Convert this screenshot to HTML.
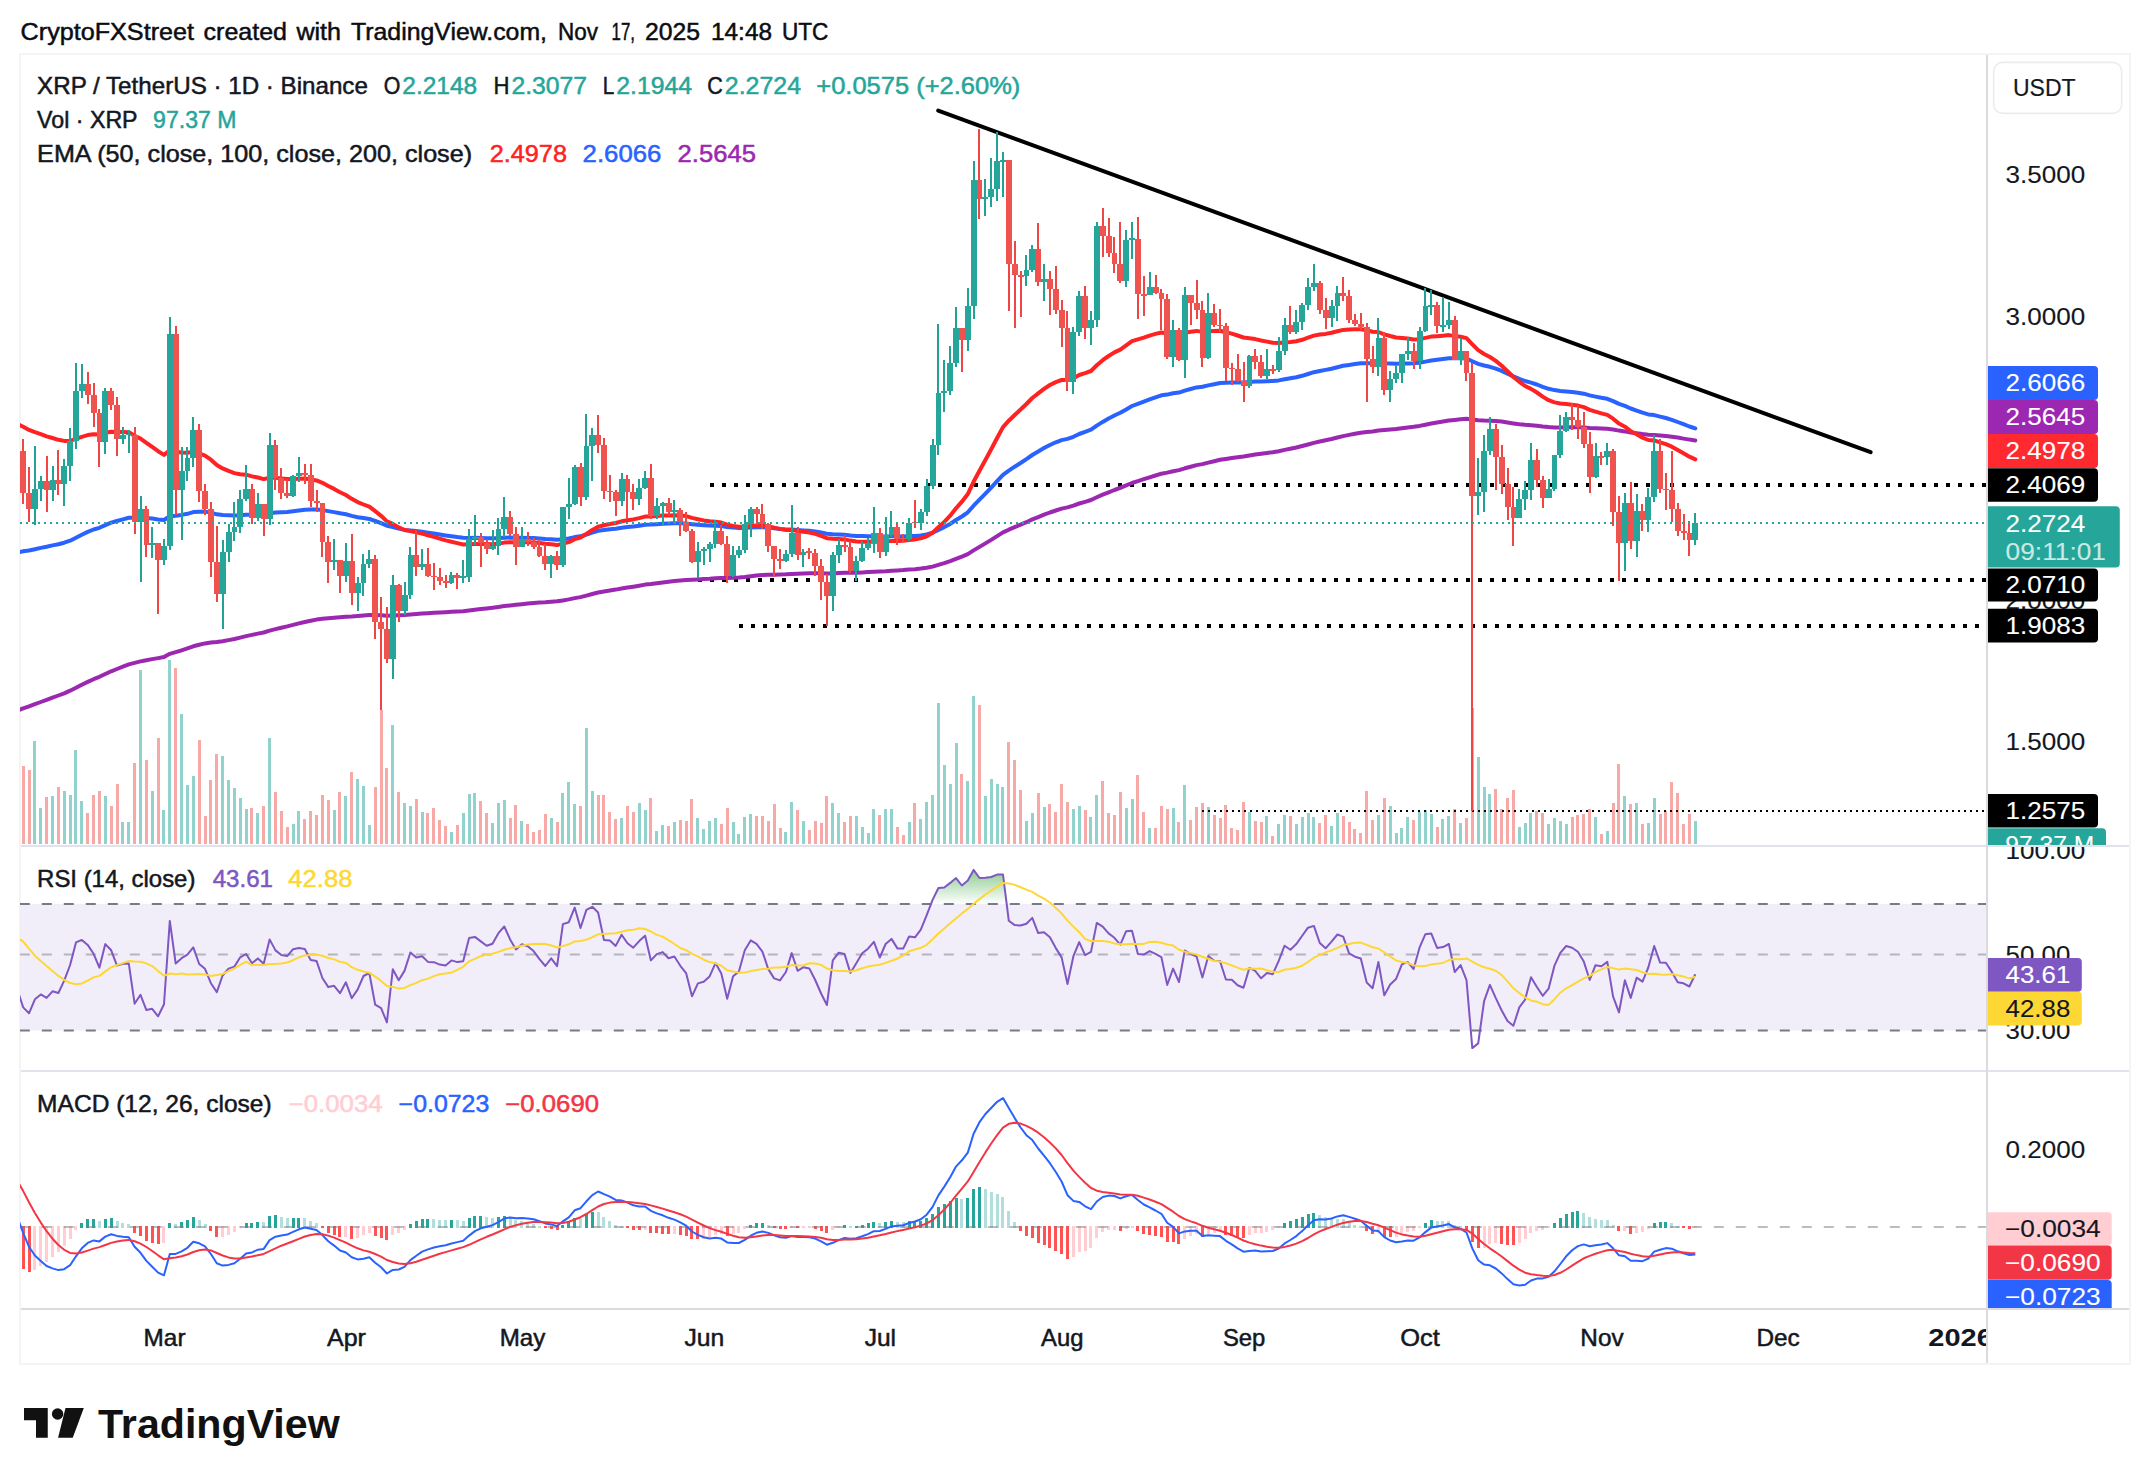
<!DOCTYPE html>
<html lang="en"><head><meta charset="utf-8"><title>XRP / TetherUS chart</title>
<style>html,body{margin:0;padding:0;background:#fff}body{width:2150px;height:1484px;overflow:hidden}svg{display:block}text{font-family:"Liberation Sans", sans-serif}</style>
</head><body>
<svg width="2150" height="1484" viewBox="0 0 2150 1484">
<defs>
<clipPath id="cpMain"><rect x="20" y="55" width="1966" height="790"/></clipPath>
<clipPath id="cpRsi"><rect x="20" y="847" width="1966" height="223"/></clipPath>
<clipPath id="cpMacd"><rect x="20" y="1072" width="1966" height="236"/></clipPath>
<clipPath id="cpAxMain"><rect x="1988" y="55" width="141" height="790"/></clipPath>
<clipPath id="cpAxRsi"><rect x="1988" y="847" width="141" height="223"/></clipPath>
<clipPath id="cpAxMacd"><rect x="1988" y="1072" width="141" height="236"/></clipPath>
<clipPath id="cpTime"><rect x="21" y="1310" width="1965" height="53"/></clipPath>
<linearGradient id="obGrad" gradientUnits="userSpaceOnUse" x1="0" y1="850.7" x2="0" y2="904"><stop offset="0" stop-color="#4caf50" stop-opacity="1"/><stop offset="1" stop-color="#4caf50" stop-opacity="0"/></linearGradient>
</defs>
<rect x="0" y="0" width="2150" height="1484" fill="#ffffff"/>
<text y="40" font-size="24.2" fill="#0b0d12" stroke="#0b0d12" stroke-width="0.5"><tspan x="20.6" textLength="173.4" lengthAdjust="spacingAndGlyphs">CryptoFXStreet</tspan> <tspan x="203.6" textLength="83.4" lengthAdjust="spacingAndGlyphs">created</tspan> <tspan x="296.4" textLength="44.6" lengthAdjust="spacingAndGlyphs">with</tspan> <tspan x="351" textLength="196" lengthAdjust="spacingAndGlyphs">TradingView.com,</tspan> <tspan x="558" textLength="40" lengthAdjust="spacingAndGlyphs">Nov</tspan> <tspan x="611.6" textLength="23.4" lengthAdjust="spacingAndGlyphs">17,</tspan> <tspan x="645" textLength="55" lengthAdjust="spacingAndGlyphs">2025</tspan> <tspan x="711" textLength="61" lengthAdjust="spacingAndGlyphs">14:48</tspan> <tspan x="782" textLength="46.4" lengthAdjust="spacingAndGlyphs">UTC</tspan></text>
<g fill="none" stroke-width="2">
<rect x="20" y="54" width="2110" height="1310" stroke="#f4f4f4"/>
<path d="M21 846H2129M21 1071H2129" stroke="#e0e3eb"/>
<path d="M21 1309H2129" stroke="#dbdbde"/>
<path d="M1987 55V1363" stroke="#dbdbde"/>
</g>
<g clip-path="url(#cpMain)">
<path d="M33 844V741h3V844zM39 844V808h3V844zM51 844V796h3V844zM63 844V791h3V844zM69 844V795h3V844zM74 844V750h3V844zM80 844V801h3V844zM104 844V796h3V844zM121 844V822h3V844zM127 844V822h3V844zM139 844V670h3V844zM151 844V791h3V844zM162 844V810h3V844zM168 844V660h3V844zM180 844V714h3V844zM186 844V785h3V844zM192 844V776h3V844zM221 844V756h3V844zM227 844V780h3V844zM233 844V788h3V844zM239 844V798h3V844zM245 844V809h3V844zM256 844V813h3V844zM268 844V738h3V844zM292 844V824h3V844zM297 844V811h3V844zM333 844V810h3V844zM344 844V796h3V844zM356 844V779h3V844zM362 844V786h3V844zM368 844V825h3V844zM391 844V725h3V844zM403 844V803h3V844zM409 844V806h3V844zM421 844V812h3V844zM450 844V832h3V844zM462 844V813h3V844zM468 844V794h3V844zM473 844V793h3V844zM491 844V823h3V844zM497 844V803h3V844zM503 844V800h3V844zM520 844V821h3V844zM550 844V818h3V844zM561 844V793h3V844zM567 844V782h3V844zM573 844V804h3V844zM585 844V728h3V844zM591 844V791h3V844zM620 844V818h3V844zM638 844V803h3V844zM644 844V810h3V844zM655 844V831h3V844zM661 844V825h3V844zM673 844V822h3V844zM696 844V818h3V844zM702 844V829h3V844zM708 844V821h3V844zM714 844V818h3V844zM732 844V822h3V844zM737 844V834h3V844zM743 844V817h3V844zM749 844V814h3V844zM784 844V832h3V844zM790 844V802h3V844zM802 844V821h3V844zM831 844V803h3V844zM837 844V813h3V844zM855 844V816h3V844zM861 844V827h3V844zM867 844V833h3V844zM872 844V809h3V844zM884 844V809h3V844zM890 844V809h3V844zM908 844V822h3V844zM919 844V819h3V844zM925 844V802h3V844zM931 844V795h3V844zM937 844V703h3V844zM943 844V765h3V844zM949 844V784h3V844zM955 844V743h3V844zM966 844V781h3V844zM972 844V696h3V844zM984 844V796h3V844zM990 844V779h3V844zM996 844V784h3V844zM1001 844V787h3V844zM1025 844V821h3V844zM1031 844V813h3V844zM1043 844V807h3V844zM1072 844V809h3V844zM1078 844V806h3V844zM1089 844V817h3V844zM1095 844V795h3V844zM1125 844V808h3V844zM1131 844V799h3V844zM1148 844V828h3V844zM1172 844V808h3V844zM1183 844V785h3V844zM1207 844V807h3V844zM1248 844V812h3V844zM1265 844V816h3V844zM1277 844V824h3V844zM1283 844V815h3V844zM1295 844V824h3V844zM1301 844V817h3V844zM1307 844V813h3V844zM1312 844V817h3V844zM1330 844V826h3V844zM1336 844V813h3V844zM1377 844V815h3V844zM1389 844V806h3V844zM1395 844V833h3V844zM1400 844V828h3V844zM1406 844V817h3V844zM1418 844V812h3V844zM1424 844V810h3V844zM1430 844V814h3V844zM1441 844V819h3V844zM1447 844V816h3V844zM1459 844V823h3V844zM1477 844V757h3V844zM1483 844V787h3V844zM1488 844V794h3V844zM1518 844V827h3V844zM1524 844V823h3V844zM1529 844V813h3V844zM1547 844V824h3V844zM1553 844V818h3V844zM1559 844V821h3V844zM1565 844V824h3V844zM1594 844V817h3V844zM1606 844V831h3V844zM1623 844V796h3V844zM1635 844V803h3V844zM1647 844V823h3V844zM1653 844V798h3V844zM1694 844V821h3V844z" fill="#92d2cc"/>
<path d="M22 844V766h3V844zM28 844V770h3V844zM45 844V797h3V844zM57 844V787h3V844zM86 844V813h3V844zM92 844V795h3V844zM98 844V791h3V844zM110 844V806h3V844zM116 844V784h3V844zM133 844V763h3V844zM145 844V760h3V844zM157 844V738h3V844zM174 844V668h3V844zM198 844V740h3V844zM204 844V816h3V844zM209 844V780h3V844zM215 844V754h3V844zM250 844V808h3V844zM262 844V806h3V844zM274 844V792h3V844zM280 844V811h3V844zM286 844V827h3V844zM303 844V819h3V844zM309 844V811h3V844zM315 844V815h3V844zM321 844V795h3V844zM327 844V800h3V844zM338 844V792h3V844zM350 844V772h3V844zM374 844V787h3V844zM380 844V710h3V844zM385 844V768h3V844zM397 844V792h3V844zM415 844V799h3V844zM426 844V813h3V844zM432 844V808h3V844zM438 844V820h3V844zM444 844V826h3V844zM456 844V825h3V844zM479 844V801h3V844zM485 844V813h3V844zM509 844V818h3V844zM514 844V805h3V844zM526 844V824h3V844zM532 844V832h3V844zM538 844V830h3V844zM544 844V814h3V844zM556 844V822h3V844zM579 844V806h3V844zM597 844V795h3V844zM602 844V795h3V844zM608 844V812h3V844zM614 844V819h3V844zM626 844V806h3V844zM632 844V812h3V844zM649 844V798h3V844zM667 844V826h3V844zM679 844V820h3V844zM685 844V821h3V844zM690 844V799h3V844zM720 844V824h3V844zM726 844V808h3V844zM755 844V816h3V844zM761 844V816h3V844zM767 844V821h3V844zM773 844V804h3V844zM779 844V828h3V844zM796 844V810h3V844zM808 844V830h3V844zM814 844V821h3V844zM820 844V823h3V844zM825 844V796h3V844zM843 844V822h3V844zM849 844V816h3V844zM878 844V815h3V844zM896 844V827h3V844zM902 844V835h3V844zM913 844V803h3V844zM960 844V774h3V844zM978 844V705h3V844zM1007 844V742h3V844zM1013 844V760h3V844zM1019 844V790h3V844zM1037 844V793h3V844zM1048 844V804h3V844zM1054 844V812h3V844zM1060 844V784h3V844zM1066 844V802h3V844zM1084 844V810h3V844zM1101 844V781h3V844zM1107 844V813h3V844zM1113 844V815h3V844zM1119 844V792h3V844zM1136 844V775h3V844zM1142 844V812h3V844zM1154 844V828h3V844zM1160 844V806h3V844zM1166 844V809h3V844zM1177 844V822h3V844zM1189 844V820h3V844zM1195 844V807h3V844zM1201 844V803h3V844zM1213 844V815h3V844zM1219 844V818h3V844zM1224 844V805h3V844zM1230 844V828h3V844zM1236 844V830h3V844zM1242 844V802h3V844zM1254 844V821h3V844zM1260 844V822h3V844zM1271 844V836h3V844zM1289 844V816h3V844zM1318 844V823h3V844zM1324 844V815h3V844zM1342 844V816h3V844zM1348 844V822h3V844zM1353 844V829h3V844zM1359 844V833h3V844zM1365 844V791h3V844zM1371 844V820h3V844zM1383 844V798h3V844zM1412 844V820h3V844zM1436 844V827h3V844zM1453 844V809h3V844zM1465 844V818h3V844zM1471 844V708h3V844zM1494 844V789h3V844zM1500 844V809h3V844zM1506 844V798h3V844zM1512 844V790h3V844zM1535 844V811h3V844zM1541 844V813h3V844zM1571 844V817h3V844zM1576 844V815h3V844zM1582 844V814h3V844zM1588 844V809h3V844zM1600 844V834h3V844zM1612 844V803h3V844zM1617 844V764h3V844zM1629 844V804h3V844zM1641 844V824h3V844zM1659 844V814h3V844zM1664 844V811h3V844zM1670 844V782h3V844zM1676 844V793h3V844zM1682 844V824h3V844zM1688 844V814h3V844z" fill="#f7a9a7"/>
<path d="M710 485H1987" stroke="#000" stroke-width="4" stroke-dasharray="4 8" fill="none"/>
<path d="M698 580H1987" stroke="#000" stroke-width="4" stroke-dasharray="4 8" fill="none"/>
<path d="M739 626H1987" stroke="#000" stroke-width="4" stroke-dasharray="4 8" fill="none"/>
<path d="M1202 811H1987" stroke="#000" stroke-width="2" stroke-dasharray="2 4" fill="none"/>
<path d="M938.2 110.6L1870.6 452.2" stroke="#000" stroke-width="4" stroke-linecap="round" fill="none"/>
<path d="M17.3 710.5L23.2 708.3L29 706.4L34.9 704.2L40.8 702L46.6 699.9L52.5 697.7L58.4 695.5L64.2 693.3L70.1 690.7L76 687.8L81.8 684.7L87.7 681.9L93.6 679.2L99.4 676.8L105.3 674L111.2 671.3L117 669L122.9 666.7L128.8 664.4L134.6 662.9L140.5 661.4L146.4 660.2L152.2 659.1L158.1 658.1L164 657L169.8 653.8L175.7 652.1L181.6 650.3L187.4 648.4L193.3 646.3L199.2 644.7L205 643.4L210.9 642.6L216.8 642.1L222.6 641.2L228.5 640.1L234.4 639L240.2 637.6L246.1 636.1L252 634.9L257.9 633.6L263.7 632.5L269.6 630.6L275.5 629.1L281.3 627.7L287.2 626.4L293.1 624.9L298.9 623.4L304.8 622L310.7 620.8L316.5 619.6L322.4 618.8L328.3 618.2L334.1 617.7L340 617.2L345.9 616.7L351.7 616.5L357.6 616.1L363.5 615.6L369.3 615L375.2 615.1L381.1 615.3L386.9 615.7L392.8 615.4L398.7 615.3L404.5 615.1L410.4 614.5L416.3 614.1L422.1 613.6L428 613.2L433.9 612.8L439.7 612.5L445.6 612.2L451.5 611.8L457.3 611.5L463.2 611.2L469.1 610.4L474.9 609.7L480.8 609L486.7 608.4L492.5 607.8L498.4 607L504.3 606.1L510.1 605.4L516 604.8L521.9 604.2L527.7 603.6L533.6 603L539.5 602.5L545.3 602.2L551.2 601.7L557.1 601.3L562.9 600.4L568.8 599.4L574.7 598.1L580.5 597.1L586.4 595.6L592.3 594L598.1 592.5L604 591.5L609.9 590.5L615.7 589.6L621.6 588.5L627.5 587.6L633.3 586.7L639.2 585.7L645.1 584.6L650.9 584L656.8 583.2L662.7 582.4L668.5 581.7L674.4 581L680.3 580.4L686.1 579.9L692 579.7L697.9 579.4L703.7 579.1L709.6 578.8L715.5 578.3L721.3 578L727.2 577.9L733.1 577.7L738.9 577.4L744.8 576.9L750.7 576.2L756.5 575.6L762.4 575.1L768.3 574.8L774.1 574.7L780 574.5L785.9 574.3L791.7 573.9L797.6 573.7L803.5 573.5L809.3 573.3L815.2 573.2L821.1 573.3L826.9 573.5L832.8 573.4L838.7 573.1L844.5 572.8L850.4 572.8L856.3 572.7L862.2 572.4L868 572.1L873.9 571.7L879.8 571.5L885.6 571.2L891.5 570.7L897.4 570.4L903.2 570.1L909.1 569.6L915 569.2L920.8 568.6L926.7 567.8L932.6 566.6L938.4 564.8L944.3 563.1L950.2 561.1L956 558.8L961.9 556.6L967.8 554.1L973.6 550.4L979.5 546.9L985.4 543.4L991.2 539.9L997.1 536.1L1003 532.4L1008.8 529.7L1014.7 527.2L1020.6 524.7L1026.4 522.2L1032.3 519.4L1038.2 517.1L1044 514.7L1049.9 512.5L1055.8 510.5L1061.6 508.6L1067.5 507.4L1073.4 505.6L1079.2 503.5L1085.1 501.8L1091 500L1096.8 497.3L1102.7 494.7L1108.6 492.3L1114.4 490L1120.3 487.9L1126.2 485.4L1132 483L1137.9 481.1L1143.8 479.2L1149.6 477.3L1155.5 475.5L1161.4 473.7L1167.2 472.6L1173.1 471.2L1179 470.1L1184.8 468.3L1190.7 466.7L1196.6 465.1L1202.4 464.1L1208.3 462.6L1214.2 461.2L1220 459.8L1225.9 458.9L1231.8 458L1237.6 457.3L1243.5 456.5L1249.4 455.5L1255.2 454.6L1261.1 453.8L1267 453L1272.8 452.2L1278.7 451.2L1284.6 449.9L1290.4 448.7L1296.3 447.5L1302.2 446L1308 444.5L1313.9 442.9L1319.8 441.5L1325.6 440.3L1331.5 439L1337.4 437.5L1343.2 436.1L1349.1 434.9L1355 433.8L1360.8 432.8L1366.7 432L1372.6 431.4L1378.4 430.5L1384.3 430.1L1390.2 429.6L1396 429L1401.9 428.2L1407.8 427.5L1413.6 426.8L1419.5 425.9L1425.4 424.7L1431.2 423.5L1437.1 422.5L1443 421.5L1448.9 420.5L1454.7 419.9L1460.6 419.2L1466.5 418.8L1472.3 419.6L1478.2 420.3L1484.1 420.6L1489.9 420.7L1495.8 421L1501.7 421.6L1507.5 422.5L1513.4 423.4L1519.3 424.2L1525.1 424.8L1531 425.2L1536.9 425.7L1542.7 426.5L1548.6 427.1L1554.5 427.4L1560.3 427.4L1566.2 427.3L1572.1 427.2L1577.9 427.2L1583.8 427.4L1589.7 427.9L1595.5 428.2L1601.4 428.5L1607.3 428.7L1613.1 429.5L1619 430.6L1624.9 431.4L1630.7 432.5L1636.6 433.2L1642.5 434.1L1648.3 434.7L1654.2 434.9L1660.1 435.4L1665.9 436L1671.8 436.7L1677.7 437.6L1683.5 438.6L1689.4 439.6L1695.3 440.4" fill="none" stroke="#9c27b0" stroke-width="4" stroke-linejoin="round" stroke-linecap="round"/>
<path d="M17.3 552.5L23.2 551.3L29 550.5L34.9 549.3L40.8 547.9L46.6 546.8L52.5 545.4L58.4 544.2L64.2 542.7L70.1 540.7L76 537.7L81.8 534.7L87.7 531.9L93.6 529.5L99.4 527.8L105.3 525.1L111.2 522.7L117 521L122.9 519.3L128.8 517.7L134.6 517.7L140.5 517.6L146.4 518.1L152.2 518.6L158.1 519.4L164 520L169.8 516.3L175.7 515.8L181.6 514.9L187.4 513.8L193.3 512.1L199.2 511.7L205 511.6L210.9 512.6L216.8 514.3L222.6 515L228.5 515.3L234.4 515.6L240.2 515.3L246.1 514.7L252 514.8L257.9 514.6L263.7 514.7L269.6 513.3L275.5 512.6L281.3 512.2L287.2 511.9L293.1 511.2L298.9 510.4L304.8 509.7L310.7 509.6L316.5 509.4L322.4 510.1L328.3 511.1L334.1 512.1L340 513.3L345.9 514.3L351.7 515.9L357.6 517.2L363.5 518.1L369.3 518.9L375.2 521L381.1 523.1L386.9 525.8L392.8 527L398.7 528.6L404.5 529.9L410.4 530.4L416.3 531.1L422.1 531.8L428 532.7L433.9 533.5L439.7 534.5L445.6 535.4L451.5 536.2L457.3 537.1L463.2 537.8L469.1 537.9L474.9 537.8L480.8 537.9L486.7 538.2L492.5 538.3L498.4 538.1L504.3 537.7L510.1 537.6L516 537.8L521.9 537.8L527.7 537.9L533.6 538.1L539.5 538.5L545.3 539L551.2 539.3L557.1 539.8L562.9 539.2L568.8 538.5L574.7 537.1L580.5 536.3L586.4 534.5L592.3 532.5L598.1 530.8L604 530L609.9 529.2L615.7 528.7L621.6 527.7L627.5 527L633.3 526.4L639.2 525.7L645.1 524.7L650.9 524.6L656.8 524.2L662.7 523.8L668.5 523.5L674.4 523.3L680.3 523.2L686.1 523.4L692 524.2L697.9 524.7L703.7 525.2L709.6 525.6L715.5 525.7L721.3 526L727.2 527L733.1 527.6L738.9 528L744.8 527.9L750.7 527.6L756.5 527.3L762.4 527.2L768.3 527.6L774.1 528.2L780 528.9L785.9 529.4L791.7 529.4L797.6 529.9L803.5 530.4L809.3 530.8L815.2 531.5L821.1 532.5L826.9 533.8L832.8 534.2L838.7 534.4L844.5 534.7L850.4 535.4L856.3 535.9L862.2 536.1L868 536.3L873.9 536.2L879.8 536.5L885.6 536.5L891.5 536.3L897.4 536.3L903.2 536.4L909.1 536.1L915 535.9L920.8 535.4L926.7 534.4L932.6 532.7L938.4 529.9L944.3 527.1L950.2 523.9L956 520L961.9 516.5L967.8 512.3L973.6 505.7L979.5 499.7L985.4 493.7L991.2 487.6L997.1 481.1L1003 474.8L1008.8 470.6L1014.7 466.7L1020.6 463L1026.4 459.1L1032.3 455L1038.2 451.5L1044 448.1L1049.9 445L1055.8 442.3L1061.6 440.1L1067.5 438.9L1073.4 436.8L1079.2 434L1085.1 431.9L1091 429.7L1096.8 425.6L1102.7 421.9L1108.6 418.5L1114.4 415.5L1120.3 412.8L1126.2 409.4L1132 406L1137.9 403.8L1143.8 401.6L1149.6 399.4L1155.5 397.3L1161.4 395.3L1167.2 394.6L1173.1 393.3L1179 392.6L1184.8 390.7L1190.7 389L1196.6 387.4L1202.4 386.8L1208.3 385.4L1214.2 384.2L1220 383L1225.9 382.7L1231.8 382.4L1237.6 382.4L1243.5 382.5L1249.4 381.9L1255.2 381.5L1261.1 381.4L1267 381.2L1272.8 381L1278.7 380.4L1284.6 379.3L1290.4 378.3L1296.3 377.2L1302.2 375.8L1308 374L1313.9 372.2L1319.8 371L1325.6 369.9L1331.5 368.7L1337.4 367.2L1343.2 365.8L1349.1 364.9L1355 364.1L1360.8 363.3L1366.7 363.2L1372.6 363.3L1378.4 362.8L1384.3 363.3L1390.2 363.6L1396 363.8L1401.9 363.6L1407.8 363.4L1413.6 363.3L1419.5 362.7L1425.4 361.6L1431.2 360.5L1437.1 359.8L1443 359.1L1448.9 358.3L1454.7 358.3L1460.6 358.2L1466.5 358.5L1472.3 361.2L1478.2 363.8L1484.1 365.5L1489.9 366.8L1495.8 368.6L1501.7 370.9L1507.5 373.6L1513.4 376.4L1519.3 378.8L1525.1 381L1531 382.6L1536.9 384.5L1542.7 386.8L1548.6 388.8L1554.5 390.1L1560.3 390.9L1566.2 391.4L1572.1 392L1577.9 392.7L1583.8 393.7L1589.7 395.4L1595.5 396.6L1601.4 397.8L1607.3 398.8L1613.1 401.1L1619 403.9L1624.9 405.9L1630.7 408.5L1636.6 410.6L1642.5 412.7L1648.3 414.4L1654.2 415.1L1660.1 416.6L1665.9 418L1671.8 419.8L1677.7 422L1683.5 424.2L1689.4 426.5L1695.3 428.4" fill="none" stroke="#2962ff" stroke-width="4" stroke-linejoin="round" stroke-linecap="round"/>
<path d="M17.3 424L23.2 426.7L29 429.9L34.9 432.2L40.8 434.1L46.6 436.3L52.5 438L58.4 439.8L64.2 440.9L70.1 440.9L76 438.9L81.8 436.8L87.7 435.1L93.6 434.2L99.4 434.5L105.3 432.8L111.2 431.7L117 432L122.9 432.1L128.8 432.3L134.6 435.8L140.5 438.6L146.4 442.8L152.2 446.8L158.1 451.2L164 454.9L169.8 450.2L175.7 451.8L181.6 452.5L187.4 452.7L193.3 451.8L199.2 453.4L205 455.6L210.9 459.7L216.8 465L222.6 468.4L228.5 470.9L234.4 473.1L240.2 474.2L246.1 474.7L252 476.4L257.9 477.5L263.7 479.1L269.6 477.8L275.5 477.8L281.3 478.4L287.2 479.1L293.1 479L298.9 478.8L304.8 478.6L310.7 479.5L316.5 480.4L322.4 482.8L328.3 485.9L334.1 488.9L340 492.3L345.9 495L351.7 498.8L357.6 502.1L363.5 504.5L369.3 506.7L375.2 511.2L381.1 515.8L386.9 521.4L392.8 523.9L398.7 527.4L404.5 530L410.4 531L416.3 532.4L422.1 533.6L428 535.3L433.9 536.9L439.7 538.6L445.6 540.4L451.5 541.7L457.3 543.1L463.2 544.5L469.1 544.2L474.9 544L480.8 543.9L486.7 544.1L492.5 544.2L498.4 543.6L504.3 542.6L510.1 542.2L516 542.4L521.9 542.3L527.7 542.2L533.6 542.4L539.5 543L545.3 543.8L551.2 544.3L557.1 545.1L562.9 543.6L568.8 542.1L574.7 539.1L580.5 537.5L586.4 533.9L592.3 530L598.1 526.7L604 525.3L609.9 524L615.7 523L621.6 521.3L627.5 520.2L633.3 519.4L639.2 518.1L645.1 516.6L650.9 516.5L656.8 516.1L662.7 515.6L668.5 515.5L674.4 515.3L680.3 515.5L686.1 516.1L692 517.9L697.9 519.2L703.7 520.4L709.6 521.3L715.5 521.7L721.3 522.6L727.2 524.6L733.1 525.9L738.9 526.8L744.8 526.7L750.7 526L756.5 525.5L762.4 525.5L768.3 526.3L774.1 527.6L780 528.9L785.9 529.9L791.7 530L797.6 531L803.5 531.8L809.3 532.6L815.2 533.9L821.1 535.8L826.9 538.2L832.8 538.8L838.7 539.1L844.5 539.4L850.4 540.6L856.3 541.4L862.2 541.7L868 541.7L873.9 541.4L879.8 541.8L885.6 541.5L891.5 541L897.4 540.9L903.2 540.8L909.1 540.1L915 539.4L920.8 538.4L926.7 536.3L932.6 532.7L938.4 527.2L944.3 521.9L950.2 515.7L956 508.3L961.9 501.7L967.8 494.1L973.6 481.8L979.5 470.7L985.4 460L991.2 449.3L997.1 438L1003 427.1L1008.8 420.7L1014.7 415L1020.6 409.5L1026.4 404L1032.3 398L1038.2 393.4L1044 388.9L1049.9 385L1055.8 382.1L1061.6 380L1067.5 380.1L1073.4 378.2L1079.2 375L1085.1 373.1L1091 371L1096.8 365.3L1102.7 360.2L1108.6 356L1114.4 352.4L1120.3 349.6L1126.2 345.3L1132 341.1L1137.9 339.3L1143.8 337.6L1149.6 335.6L1155.5 333.9L1161.4 332.5L1167.2 333.5L1173.1 333.4L1179 334.4L1184.8 332.9L1190.7 331.7L1196.6 330.9L1202.4 331.9L1208.3 331.2L1214.2 331L1220 330.7L1225.9 332.2L1231.8 333.6L1237.6 335.5L1243.5 337.5L1249.4 338.2L1255.2 339.1L1261.1 340.5L1267 341.6L1272.8 342.8L1278.7 343.1L1284.6 342.4L1290.4 342L1296.3 341.2L1302.2 339.8L1308 337.7L1313.9 335.6L1319.8 334.5L1325.6 333.9L1331.5 332.8L1337.4 331.2L1343.2 329.9L1349.1 329.5L1355 329.3L1360.8 329.2L1366.7 330.3L1372.6 331.8L1378.4 332L1384.3 334.3L1390.2 336L1396 337.5L1401.9 338.1L1407.8 338.6L1413.6 339.5L1419.5 339.2L1425.4 337.9L1431.2 336.6L1437.1 336.2L1443 335.7L1448.9 335.1L1454.7 336.1L1460.6 336.7L1466.5 338.1L1472.3 344.3L1478.2 350.1L1484.1 354L1489.9 357L1495.8 360.9L1501.7 365.7L1507.5 371.3L1513.4 377L1519.3 381.8L1525.1 386L1531 388.9L1536.9 392.5L1542.7 396.6L1548.6 400.2L1554.5 402.4L1560.3 403.5L1566.2 404.1L1572.1 404.7L1577.9 405.6L1583.8 407.1L1589.7 409.9L1595.5 411.7L1601.4 413.4L1607.3 414.9L1613.1 418.7L1619 423.6L1624.9 426.7L1630.7 431.2L1636.6 434.3L1642.5 437.7L1648.3 440L1654.2 440.4L1660.1 442.3L1665.9 444.2L1671.8 446.7L1677.7 450.1L1683.5 453.3L1689.4 456.7L1695.3 459.3" fill="none" stroke="#ff2222" stroke-width="4" stroke-linejoin="round" stroke-linecap="round"/>
<path d="M22 439V504h2V439z" fill="#ef4544"/><rect x="20" y="451" width="6" height="42" fill="#ef5350"/>
<path d="M28 467V522h2V467z" fill="#ef4544"/><rect x="26" y="493" width="6" height="16" fill="#ef5350"/>
<path d="M34 446V525h2V446z" fill="#22a195"/><rect x="32" y="489" width="6" height="20" fill="#26a69a"/>
<path d="M40 476V501h2V476z" fill="#22a195"/><rect x="38" y="481" width="6" height="8" fill="#26a69a"/>
<path d="M46 456V512h2V456z" fill="#ef4544"/><rect x="44" y="481" width="6" height="9" fill="#ef5350"/>
<path d="M52 466V501h2V466z" fill="#22a195"/><rect x="50" y="480" width="6" height="10" fill="#26a69a"/>
<path d="M57 450V495h2V450z" fill="#ef4544"/><rect x="56" y="480" width="5" height="4" fill="#ef5350"/>
<path d="M63 459V506h2V459z" fill="#22a195"/><rect x="61" y="466" width="6" height="18" fill="#26a69a"/>
<path d="M69 428V481h2V428z" fill="#22a195"/><rect x="67" y="441" width="6" height="25" fill="#26a69a"/>
<path d="M75 363V449h2V363z" fill="#22a195"/><rect x="73" y="391" width="6" height="50" fill="#26a69a"/>
<path d="M81 364V398h2V364z" fill="#22a195"/><rect x="79" y="384" width="6" height="7" fill="#26a69a"/>
<path d="M87 372V404h2V372z" fill="#ef4544"/><rect x="85" y="384" width="6" height="11" fill="#ef5350"/>
<path d="M93 383V427h2V383z" fill="#ef4544"/><rect x="91" y="395" width="6" height="18" fill="#ef5350"/>
<path d="M98 409V467h2V409z" fill="#ef4544"/><rect x="97" y="413" width="5" height="29" fill="#ef5350"/>
<path d="M104 388V454h2V388z" fill="#22a195"/><rect x="102" y="391" width="6" height="51" fill="#26a69a"/>
<path d="M110 388V410h2V388z" fill="#ef4544"/><rect x="108" y="391" width="6" height="14" fill="#ef5350"/>
<path d="M116 397V456h2V397z" fill="#ef4544"/><rect x="114" y="405" width="6" height="34" fill="#ef5350"/>
<path d="M122 427V444h2V427z" fill="#22a195"/><rect x="120" y="435" width="6" height="4" fill="#26a69a"/>
<path d="M128 430V453h2V430z" fill="#22a195"/><rect x="126" y="434" width="6" height="1" fill="#26a69a"/>
<path d="M134 427V534h2V427z" fill="#ef4544"/><rect x="132" y="435" width="6" height="87" fill="#ef5350"/>
<path d="M140 496V582h2V496z" fill="#22a195"/><rect x="138" y="509" width="6" height="13" fill="#26a69a"/>
<path d="M145 506V557h2V506z" fill="#ef4544"/><rect x="144" y="509" width="5" height="36" fill="#ef5350"/>
<path d="M151 527V558h2V527z" fill="#22a195"/><rect x="149" y="543" width="6" height="2" fill="#26a69a"/>
<path d="M157 543V614h2V543z" fill="#ef4544"/><rect x="155" y="543" width="6" height="17" fill="#ef5350"/>
<path d="M163 539V565h2V539z" fill="#22a195"/><rect x="161" y="546" width="6" height="14" fill="#26a69a"/>
<path d="M169 317V550h2V317z" fill="#22a195"/><rect x="167" y="334" width="6" height="212" fill="#26a69a"/>
<path d="M175 326V515h2V326z" fill="#ef4544"/><rect x="173" y="334" width="6" height="156" fill="#ef5350"/>
<path d="M181 447V540h2V447z" fill="#22a195"/><rect x="179" y="471" width="6" height="19" fill="#26a69a"/>
<path d="M186 447V481h2V447z" fill="#22a195"/><rect x="185" y="458" width="5" height="13" fill="#26a69a"/>
<path d="M192 417V467h2V417z" fill="#22a195"/><rect x="190" y="430" width="6" height="28" fill="#26a69a"/>
<path d="M198 424V502h2V424z" fill="#ef4544"/><rect x="196" y="430" width="6" height="61" fill="#ef5350"/>
<path d="M204 484V515h2V484z" fill="#ef4544"/><rect x="202" y="491" width="6" height="18" fill="#ef5350"/>
<path d="M210 502V577h2V502z" fill="#ef4544"/><rect x="208" y="509" width="6" height="53" fill="#ef5350"/>
<path d="M216 526V602h2V526z" fill="#ef4544"/><rect x="214" y="562" width="6" height="32" fill="#ef5350"/>
<path d="M222 540V629h2V540z" fill="#22a195"/><rect x="220" y="552" width="6" height="42" fill="#26a69a"/>
<path d="M228 524V562h2V524z" fill="#22a195"/><rect x="226" y="532" width="6" height="20" fill="#26a69a"/>
<path d="M233 502V541h2V502z" fill="#22a195"/><rect x="232" y="527" width="5" height="5" fill="#26a69a"/>
<path d="M239 490V533h2V490z" fill="#22a195"/><rect x="237" y="499" width="6" height="28" fill="#26a69a"/>
<path d="M245 465V501h2V465z" fill="#22a195"/><rect x="243" y="489" width="6" height="10" fill="#26a69a"/>
<path d="M251 484V524h2V484z" fill="#ef4544"/><rect x="249" y="489" width="6" height="29" fill="#ef5350"/>
<path d="M257 493V521h2V493z" fill="#22a195"/><rect x="255" y="504" width="6" height="14" fill="#26a69a"/>
<path d="M263 504V536h2V504z" fill="#ef4544"/><rect x="261" y="504" width="6" height="15" fill="#ef5350"/>
<path d="M269 433V525h2V433z" fill="#22a195"/><rect x="267" y="445" width="6" height="74" fill="#26a69a"/>
<path d="M274 440V490h2V440z" fill="#ef4544"/><rect x="273" y="445" width="5" height="33" fill="#ef5350"/>
<path d="M280 468V499h2V468z" fill="#ef4544"/><rect x="278" y="478" width="6" height="15" fill="#ef5350"/>
<path d="M286 479V498h2V479z" fill="#ef4544"/><rect x="284" y="493" width="6" height="3" fill="#ef5350"/>
<path d="M292 475V497h2V475z" fill="#22a195"/><rect x="290" y="476" width="6" height="20" fill="#26a69a"/>
<path d="M298 457V482h2V457z" fill="#22a195"/><rect x="296" y="473" width="6" height="3" fill="#26a69a"/>
<path d="M304 464V484h2V464z" fill="#ef4544"/><rect x="302" y="473" width="6" height="2" fill="#ef5350"/>
<path d="M310 464V507h2V464z" fill="#ef4544"/><rect x="308" y="475" width="6" height="26" fill="#ef5350"/>
<path d="M316 490V512h2V490z" fill="#ef4544"/><rect x="314" y="501" width="6" height="2" fill="#ef5350"/>
<path d="M321 503V557h2V503z" fill="#ef4544"/><rect x="320" y="503" width="5" height="39" fill="#ef5350"/>
<path d="M327 536V583h2V536z" fill="#ef4544"/><rect x="325" y="542" width="6" height="20" fill="#ef5350"/>
<path d="M333 539V570h2V539z" fill="#22a195"/><rect x="331" y="560" width="6" height="2" fill="#26a69a"/>
<path d="M339 560V593h2V560z" fill="#ef4544"/><rect x="337" y="560" width="6" height="16" fill="#ef5350"/>
<path d="M345 543V582h2V543z" fill="#22a195"/><rect x="343" y="561" width="6" height="15" fill="#26a69a"/>
<path d="M351 534V605h2V534z" fill="#ef4544"/><rect x="349" y="561" width="6" height="32" fill="#ef5350"/>
<path d="M357 577V611h2V577z" fill="#22a195"/><rect x="355" y="583" width="6" height="10" fill="#26a69a"/>
<path d="M362 554V596h2V554z" fill="#22a195"/><rect x="361" y="564" width="5" height="19" fill="#26a69a"/>
<path d="M368 550V568h2V550z" fill="#22a195"/><rect x="366" y="559" width="6" height="5" fill="#26a69a"/>
<path d="M374 555V639h2V555z" fill="#ef4544"/><rect x="372" y="559" width="6" height="63" fill="#ef5350"/>
<path d="M380 597V710h2V597z" fill="#ef4544"/><rect x="378" y="622" width="6" height="7" fill="#ef5350"/>
<path d="M386 607V663h2V607z" fill="#ef4544"/><rect x="384" y="629" width="6" height="30" fill="#ef5350"/>
<path d="M392 575V679h2V575z" fill="#22a195"/><rect x="390" y="585" width="6" height="74" fill="#26a69a"/>
<path d="M398 584V622h2V584z" fill="#ef4544"/><rect x="396" y="585" width="6" height="26" fill="#ef5350"/>
<path d="M404 582V615h2V582z" fill="#22a195"/><rect x="402" y="595" width="6" height="16" fill="#26a69a"/>
<path d="M409 547V599h2V547z" fill="#22a195"/><rect x="408" y="555" width="5" height="40" fill="#26a69a"/>
<path d="M415 530V576h2V530z" fill="#ef4544"/><rect x="413" y="555" width="6" height="12" fill="#ef5350"/>
<path d="M421 549V570h2V549z" fill="#22a195"/><rect x="419" y="564" width="6" height="3" fill="#26a69a"/>
<path d="M427 548V577h2V548z" fill="#ef4544"/><rect x="425" y="564" width="6" height="12" fill="#ef5350"/>
<path d="M433 563V590h2V563z" fill="#ef4544"/><rect x="431" y="576" width="6" height="1" fill="#ef5350"/>
<path d="M439 568V585h2V568z" fill="#ef4544"/><rect x="437" y="577" width="6" height="4" fill="#ef5350"/>
<path d="M445 575V588h2V575z" fill="#ef4544"/><rect x="443" y="581" width="6" height="2" fill="#ef5350"/>
<path d="M450 572V584h2V572z" fill="#22a195"/><rect x="449" y="575" width="5" height="8" fill="#26a69a"/>
<path d="M456 573V589h2V573z" fill="#ef4544"/><rect x="454" y="575" width="6" height="3" fill="#ef5350"/>
<path d="M462 560V583h2V560z" fill="#22a195"/><rect x="460" y="576" width="6" height="2" fill="#26a69a"/>
<path d="M468 529V582h2V529z" fill="#22a195"/><rect x="466" y="539" width="6" height="38" fill="#26a69a"/>
<path d="M474 515V545h2V515z" fill="#22a195"/><rect x="472" y="537" width="6" height="2" fill="#26a69a"/>
<path d="M480 533V567h2V533z" fill="#ef4544"/><rect x="478" y="537" width="6" height="6" fill="#ef5350"/>
<path d="M486 539V554h2V539z" fill="#ef4544"/><rect x="484" y="543" width="6" height="6" fill="#ef5350"/>
<path d="M492 530V550h2V530z" fill="#22a195"/><rect x="490" y="546" width="6" height="3" fill="#26a69a"/>
<path d="M497 518V555h2V518z" fill="#22a195"/><rect x="496" y="529" width="5" height="17" fill="#26a69a"/>
<path d="M503 497V537h2V497z" fill="#22a195"/><rect x="501" y="517" width="6" height="12" fill="#26a69a"/>
<path d="M509 511V536h2V511z" fill="#ef4544"/><rect x="507" y="517" width="6" height="17" fill="#ef5350"/>
<path d="M515 527V565h2V527z" fill="#ef4544"/><rect x="513" y="534" width="6" height="13" fill="#ef5350"/>
<path d="M521 527V547h2V527z" fill="#22a195"/><rect x="519" y="539" width="6" height="8" fill="#26a69a"/>
<path d="M527 532V546h2V532z" fill="#ef4544"/><rect x="525" y="539" width="6" height="3" fill="#ef5350"/>
<path d="M533 538V549h2V538z" fill="#ef4544"/><rect x="531" y="542" width="6" height="5" fill="#ef5350"/>
<path d="M538 539V557h2V539z" fill="#ef4544"/><rect x="537" y="547" width="5" height="9" fill="#ef5350"/>
<path d="M544 544V570h2V544z" fill="#ef4544"/><rect x="542" y="556" width="6" height="8" fill="#ef5350"/>
<path d="M550 555V578h2V555z" fill="#22a195"/><rect x="548" y="556" width="6" height="8" fill="#26a69a"/>
<path d="M556 551V570h2V551z" fill="#ef4544"/><rect x="554" y="556" width="6" height="9" fill="#ef5350"/>
<path d="M562 507V567h2V507z" fill="#22a195"/><rect x="560" y="507" width="6" height="58" fill="#26a69a"/>
<path d="M568 478V519h2V478z" fill="#22a195"/><rect x="566" y="504" width="6" height="3" fill="#26a69a"/>
<path d="M574 465V505h2V465z" fill="#22a195"/><rect x="572" y="467" width="6" height="37" fill="#26a69a"/>
<path d="M580 463V506h2V463z" fill="#ef4544"/><rect x="578" y="467" width="6" height="30" fill="#ef5350"/>
<path d="M585 414V500h2V414z" fill="#22a195"/><rect x="584" y="446" width="5" height="51" fill="#26a69a"/>
<path d="M591 428V481h2V428z" fill="#22a195"/><rect x="589" y="435" width="6" height="11" fill="#26a69a"/>
<path d="M597 415V453h2V415z" fill="#ef4544"/><rect x="595" y="435" width="6" height="10" fill="#ef5350"/>
<path d="M603 438V499h2V438z" fill="#ef4544"/><rect x="601" y="445" width="6" height="46" fill="#ef5350"/>
<path d="M609 475V502h2V475z" fill="#ef4544"/><rect x="607" y="491" width="6" height="1" fill="#ef5350"/>
<path d="M615 490V516h2V490z" fill="#ef4544"/><rect x="613" y="492" width="6" height="9" fill="#ef5350"/>
<path d="M621 473V506h2V473z" fill="#22a195"/><rect x="619" y="479" width="6" height="22" fill="#26a69a"/>
<path d="M626 475V519h2V475z" fill="#ef4544"/><rect x="625" y="479" width="5" height="13" fill="#ef5350"/>
<path d="M632 484V510h2V484z" fill="#ef4544"/><rect x="630" y="492" width="6" height="7" fill="#ef5350"/>
<path d="M638 479V505h2V479z" fill="#22a195"/><rect x="636" y="488" width="6" height="11" fill="#26a69a"/>
<path d="M644 471V489h2V471z" fill="#22a195"/><rect x="642" y="478" width="6" height="10" fill="#26a69a"/>
<path d="M650 464V519h2V464z" fill="#ef4544"/><rect x="648" y="478" width="6" height="38" fill="#ef5350"/>
<path d="M656 498V519h2V498z" fill="#22a195"/><rect x="654" y="506" width="6" height="10" fill="#26a69a"/>
<path d="M662 502V525h2V502z" fill="#22a195"/><rect x="660" y="503" width="6" height="3" fill="#26a69a"/>
<path d="M668 498V516h2V498z" fill="#ef4544"/><rect x="666" y="503" width="6" height="9" fill="#ef5350"/>
<path d="M673 500V523h2V500z" fill="#22a195"/><rect x="672" y="510" width="5" height="2" fill="#26a69a"/>
<path d="M679 508V536h2V508z" fill="#ef4544"/><rect x="677" y="510" width="6" height="12" fill="#ef5350"/>
<path d="M685 512V532h2V512z" fill="#ef4544"/><rect x="683" y="522" width="6" height="9" fill="#ef5350"/>
<path d="M691 529V563h2V529z" fill="#ef4544"/><rect x="689" y="531" width="6" height="31" fill="#ef5350"/>
<path d="M697 542V578h2V542z" fill="#22a195"/><rect x="695" y="551" width="6" height="11" fill="#26a69a"/>
<path d="M703 547V565h2V547z" fill="#22a195"/><rect x="701" y="549" width="6" height="2" fill="#26a69a"/>
<path d="M709 542V562h2V542z" fill="#22a195"/><rect x="707" y="544" width="6" height="5" fill="#26a69a"/>
<path d="M714 520V548h2V520z" fill="#22a195"/><rect x="713" y="531" width="5" height="13" fill="#26a69a"/>
<path d="M720 525V545h2V525z" fill="#ef4544"/><rect x="718" y="531" width="6" height="13" fill="#ef5350"/>
<path d="M726 536V583h2V536z" fill="#ef4544"/><rect x="724" y="544" width="6" height="32" fill="#ef5350"/>
<path d="M732 546V577h2V546z" fill="#22a195"/><rect x="730" y="555" width="6" height="21" fill="#26a69a"/>
<path d="M738 546V558h2V546z" fill="#22a195"/><rect x="736" y="550" width="6" height="5" fill="#26a69a"/>
<path d="M744 515V553h2V515z" fill="#22a195"/><rect x="742" y="524" width="6" height="26" fill="#26a69a"/>
<path d="M750 507V537h2V507z" fill="#22a195"/><rect x="748" y="509" width="6" height="15" fill="#26a69a"/>
<path d="M756 507V525h2V507z" fill="#ef4544"/><rect x="754" y="509" width="6" height="5" fill="#ef5350"/>
<path d="M761 504V529h2V504z" fill="#ef4544"/><rect x="760" y="514" width="5" height="10" fill="#ef5350"/>
<path d="M767 523V552h2V523z" fill="#ef4544"/><rect x="765" y="524" width="6" height="22" fill="#ef5350"/>
<path d="M773 546V577h2V546z" fill="#ef4544"/><rect x="771" y="546" width="6" height="13" fill="#ef5350"/>
<path d="M779 549V569h2V549z" fill="#ef4544"/><rect x="777" y="559" width="6" height="2" fill="#ef5350"/>
<path d="M785 550V562h2V550z" fill="#22a195"/><rect x="783" y="554" width="6" height="7" fill="#26a69a"/>
<path d="M791 505V557h2V505z" fill="#22a195"/><rect x="789" y="533" width="6" height="21" fill="#26a69a"/>
<path d="M797 527V560h2V527z" fill="#ef4544"/><rect x="795" y="533" width="6" height="22" fill="#ef5350"/>
<path d="M802 549V567h2V549z" fill="#22a195"/><rect x="801" y="552" width="5" height="3" fill="#26a69a"/>
<path d="M808 548V559h2V548z" fill="#ef4544"/><rect x="806" y="551" width="6" height="2" fill="#ef5350"/>
<path d="M814 549V576h2V549z" fill="#ef4544"/><rect x="812" y="553" width="6" height="13" fill="#ef5350"/>
<path d="M820 559V600h2V559z" fill="#ef4544"/><rect x="818" y="566" width="6" height="16" fill="#ef5350"/>
<path d="M826 574V626h2V574z" fill="#ef4544"/><rect x="824" y="582" width="6" height="14" fill="#ef5350"/>
<path d="M832 552V611h2V552z" fill="#22a195"/><rect x="830" y="555" width="6" height="41" fill="#26a69a"/>
<path d="M838 539V563h2V539z" fill="#22a195"/><rect x="836" y="545" width="6" height="10" fill="#26a69a"/>
<path d="M844 535V552h2V535z" fill="#ef4544"/><rect x="842" y="545" width="6" height="2" fill="#ef5350"/>
<path d="M849 541V573h2V541z" fill="#ef4544"/><rect x="848" y="547" width="5" height="24" fill="#ef5350"/>
<path d="M855 556V581h2V556z" fill="#22a195"/><rect x="853" y="561" width="6" height="10" fill="#26a69a"/>
<path d="M861 541V562h2V541z" fill="#22a195"/><rect x="859" y="548" width="6" height="13" fill="#26a69a"/>
<path d="M867 538V550h2V538z" fill="#22a195"/><rect x="865" y="543" width="6" height="5" fill="#26a69a"/>
<path d="M873 507V553h2V507z" fill="#22a195"/><rect x="871" y="533" width="6" height="10" fill="#26a69a"/>
<path d="M879 528V558h2V528z" fill="#ef4544"/><rect x="877" y="533" width="6" height="19" fill="#ef5350"/>
<path d="M885 517V556h2V517z" fill="#22a195"/><rect x="883" y="535" width="6" height="17" fill="#26a69a"/>
<path d="M890 511V537h2V511z" fill="#22a195"/><rect x="889" y="527" width="5" height="8" fill="#26a69a"/>
<path d="M896 522V545h2V522z" fill="#ef4544"/><rect x="894" y="527" width="6" height="12" fill="#ef5350"/>
<path d="M902 534V542h2V534z" fill="#ef4544"/><rect x="900" y="538" width="6" height="1" fill="#ef5350"/>
<path d="M908 518V541h2V518z" fill="#22a195"/><rect x="906" y="523" width="6" height="16" fill="#26a69a"/>
<path d="M914 500V528h2V500z" fill="#ef4544"/><rect x="912" y="522" width="6" height="1" fill="#ef5350"/>
<path d="M920 509V530h2V509z" fill="#22a195"/><rect x="918" y="512" width="6" height="11" fill="#26a69a"/>
<path d="M926 479V516h2V479z" fill="#22a195"/><rect x="924" y="486" width="6" height="26" fill="#26a69a"/>
<path d="M932 439V489h2V439z" fill="#22a195"/><rect x="930" y="445" width="6" height="41" fill="#26a69a"/>
<path d="M937 324V455h2V324z" fill="#22a195"/><rect x="936" y="393" width="5" height="52" fill="#26a69a"/>
<path d="M943 360V412h2V360z" fill="#22a195"/><rect x="941" y="391" width="6" height="2" fill="#26a69a"/>
<path d="M949 346V395h2V346z" fill="#22a195"/><rect x="947" y="363" width="6" height="28" fill="#26a69a"/>
<path d="M955 307V367h2V307z" fill="#22a195"/><rect x="953" y="328" width="6" height="35" fill="#26a69a"/>
<path d="M961 328V372h2V328z" fill="#ef4544"/><rect x="959" y="328" width="6" height="12" fill="#ef5350"/>
<path d="M967 288V351h2V288z" fill="#22a195"/><rect x="965" y="306" width="6" height="34" fill="#26a69a"/>
<path d="M973 161V319h2V161z" fill="#22a195"/><rect x="971" y="180" width="6" height="126" fill="#26a69a"/>
<path d="M978 129V219h2V129z" fill="#ef4544"/><rect x="977" y="180" width="5" height="19" fill="#ef5350"/>
<path d="M984 179V216h2V179z" fill="#22a195"/><rect x="982" y="197" width="6" height="2" fill="#26a69a"/>
<path d="M990 158V207h2V158z" fill="#22a195"/><rect x="988" y="189" width="6" height="8" fill="#26a69a"/>
<path d="M996 132V201h2V132z" fill="#22a195"/><rect x="994" y="161" width="6" height="28" fill="#26a69a"/>
<path d="M1002 152V197h2V152z" fill="#22a195"/><rect x="1000" y="160" width="6" height="2" fill="#26a69a"/>
<path d="M1008 160V311h2V160z" fill="#ef4544"/><rect x="1006" y="160" width="6" height="104" fill="#ef5350"/>
<path d="M1014 241V328h2V241z" fill="#ef4544"/><rect x="1012" y="264" width="6" height="11" fill="#ef5350"/>
<path d="M1020 271V317h2V271z" fill="#ef4544"/><rect x="1018" y="275" width="6" height="2" fill="#ef5350"/>
<path d="M1025 255V286h2V255z" fill="#22a195"/><rect x="1024" y="270" width="5" height="6" fill="#26a69a"/>
<path d="M1031 245V272h2V245z" fill="#22a195"/><rect x="1029" y="249" width="6" height="21" fill="#26a69a"/>
<path d="M1037 223V286h2V223z" fill="#ef4544"/><rect x="1035" y="249" width="6" height="33" fill="#ef5350"/>
<path d="M1043 264V301h2V264z" fill="#22a195"/><rect x="1041" y="279" width="6" height="3" fill="#26a69a"/>
<path d="M1049 271V315h2V271z" fill="#ef4544"/><rect x="1047" y="279" width="6" height="10" fill="#ef5350"/>
<path d="M1055 266V314h2V266z" fill="#ef4544"/><rect x="1053" y="289" width="6" height="21" fill="#ef5350"/>
<path d="M1061 300V347h2V300z" fill="#ef4544"/><rect x="1059" y="310" width="6" height="18" fill="#ef5350"/>
<path d="M1066 311V391h2V311z" fill="#ef4544"/><rect x="1065" y="328" width="5" height="54" fill="#ef5350"/>
<path d="M1072 327V394h2V327z" fill="#22a195"/><rect x="1070" y="332" width="6" height="50" fill="#26a69a"/>
<path d="M1078 291V336h2V291z" fill="#22a195"/><rect x="1076" y="296" width="6" height="36" fill="#26a69a"/>
<path d="M1084 286V339h2V286z" fill="#ef4544"/><rect x="1082" y="296" width="6" height="32" fill="#ef5350"/>
<path d="M1090 311V345h2V311z" fill="#22a195"/><rect x="1088" y="320" width="6" height="8" fill="#26a69a"/>
<path d="M1096 222V327h2V222z" fill="#22a195"/><rect x="1094" y="226" width="6" height="94" fill="#26a69a"/>
<path d="M1102 208V257h2V208z" fill="#ef4544"/><rect x="1100" y="226" width="6" height="10" fill="#ef5350"/>
<path d="M1108 218V257h2V218z" fill="#ef4544"/><rect x="1106" y="236" width="6" height="17" fill="#ef5350"/>
<path d="M1113 237V273h2V237z" fill="#ef4544"/><rect x="1112" y="253" width="5" height="11" fill="#ef5350"/>
<path d="M1119 222V283h2V222z" fill="#ef4544"/><rect x="1117" y="264" width="6" height="17" fill="#ef5350"/>
<path d="M1125 230V287h2V230z" fill="#22a195"/><rect x="1123" y="240" width="6" height="41" fill="#26a69a"/>
<path d="M1131 222V259h2V222z" fill="#22a195"/><rect x="1129" y="238" width="6" height="2" fill="#26a69a"/>
<path d="M1137 217V319h2V217z" fill="#ef4544"/><rect x="1135" y="239" width="6" height="55" fill="#ef5350"/>
<path d="M1143 276V316h2V276z" fill="#ef4544"/><rect x="1141" y="294" width="6" height="2" fill="#ef5350"/>
<path d="M1149 272V295h2V272z" fill="#22a195"/><rect x="1147" y="287" width="6" height="8" fill="#26a69a"/>
<path d="M1155 275V294h2V275z" fill="#ef4544"/><rect x="1153" y="287" width="6" height="6" fill="#ef5350"/>
<path d="M1160 289V330h2V289z" fill="#ef4544"/><rect x="1159" y="293" width="5" height="6" fill="#ef5350"/>
<path d="M1166 294V359h2V294z" fill="#ef4544"/><rect x="1164" y="299" width="6" height="58" fill="#ef5350"/>
<path d="M1172 320V367h2V320z" fill="#22a195"/><rect x="1170" y="330" width="6" height="27" fill="#26a69a"/>
<path d="M1178 328V361h2V328z" fill="#ef4544"/><rect x="1176" y="330" width="6" height="30" fill="#ef5350"/>
<path d="M1184 287V378h2V287z" fill="#22a195"/><rect x="1182" y="295" width="6" height="65" fill="#26a69a"/>
<path d="M1190 295V325h2V295z" fill="#ef4544"/><rect x="1188" y="295" width="6" height="8" fill="#ef5350"/>
<path d="M1196 280V319h2V280z" fill="#ef4544"/><rect x="1194" y="303" width="6" height="7" fill="#ef5350"/>
<path d="M1201 301V367h2V301z" fill="#ef4544"/><rect x="1200" y="310" width="5" height="48" fill="#ef5350"/>
<path d="M1207 293V359h2V293z" fill="#22a195"/><rect x="1205" y="313" width="6" height="45" fill="#26a69a"/>
<path d="M1213 304V327h2V304z" fill="#ef4544"/><rect x="1211" y="313" width="6" height="12" fill="#ef5350"/>
<path d="M1219 309V332h2V309z" fill="#ef4544"/><rect x="1217" y="325" width="6" height="1" fill="#ef5350"/>
<path d="M1225 323V381h2V323z" fill="#ef4544"/><rect x="1223" y="326" width="6" height="42" fill="#ef5350"/>
<path d="M1231 363V385h2V363z" fill="#ef4544"/><rect x="1229" y="368" width="6" height="1" fill="#ef5350"/>
<path d="M1237 354V382h2V354z" fill="#ef4544"/><rect x="1235" y="369" width="6" height="12" fill="#ef5350"/>
<path d="M1243 362V402h2V362z" fill="#ef4544"/><rect x="1241" y="381" width="6" height="5" fill="#ef5350"/>
<path d="M1248 355V388h2V355z" fill="#22a195"/><rect x="1247" y="356" width="5" height="30" fill="#26a69a"/>
<path d="M1254 349V369h2V349z" fill="#ef4544"/><rect x="1252" y="356" width="6" height="6" fill="#ef5350"/>
<path d="M1260 355V378h2V355z" fill="#ef4544"/><rect x="1258" y="362" width="6" height="14" fill="#ef5350"/>
<path d="M1266 349V379h2V349z" fill="#22a195"/><rect x="1264" y="369" width="6" height="7" fill="#26a69a"/>
<path d="M1272 365V374h2V365z" fill="#ef4544"/><rect x="1270" y="369" width="6" height="2" fill="#ef5350"/>
<path d="M1278 337V372h2V337z" fill="#22a195"/><rect x="1276" y="351" width="6" height="19" fill="#26a69a"/>
<path d="M1284 318V355h2V318z" fill="#22a195"/><rect x="1282" y="325" width="6" height="26" fill="#26a69a"/>
<path d="M1289 306V334h2V306z" fill="#ef4544"/><rect x="1288" y="325" width="5" height="7" fill="#ef5350"/>
<path d="M1295 310V334h2V310z" fill="#22a195"/><rect x="1293" y="322" width="6" height="10" fill="#26a69a"/>
<path d="M1301 303V330h2V303z" fill="#22a195"/><rect x="1299" y="305" width="6" height="17" fill="#26a69a"/>
<path d="M1307 278V310h2V278z" fill="#22a195"/><rect x="1305" y="287" width="6" height="18" fill="#26a69a"/>
<path d="M1313 264V291h2V264z" fill="#22a195"/><rect x="1311" y="283" width="6" height="4" fill="#26a69a"/>
<path d="M1319 281V314h2V281z" fill="#ef4544"/><rect x="1317" y="283" width="6" height="27" fill="#ef5350"/>
<path d="M1325 298V329h2V298z" fill="#ef4544"/><rect x="1323" y="310" width="6" height="8" fill="#ef5350"/>
<path d="M1331 300V327h2V300z" fill="#22a195"/><rect x="1329" y="306" width="6" height="12" fill="#26a69a"/>
<path d="M1336 286V321h2V286z" fill="#22a195"/><rect x="1335" y="293" width="5" height="13" fill="#26a69a"/>
<path d="M1342 277V301h2V277z" fill="#ef4544"/><rect x="1340" y="293" width="6" height="3" fill="#ef5350"/>
<path d="M1348 290V323h2V290z" fill="#ef4544"/><rect x="1346" y="296" width="6" height="24" fill="#ef5350"/>
<path d="M1354 314V326h2V314z" fill="#ef4544"/><rect x="1352" y="320" width="6" height="4" fill="#ef5350"/>
<path d="M1360 313V330h2V313z" fill="#ef4544"/><rect x="1358" y="324" width="6" height="3" fill="#ef5350"/>
<path d="M1366 323V402h2V323z" fill="#ef4544"/><rect x="1364" y="327" width="6" height="32" fill="#ef5350"/>
<path d="M1372 346V373h2V346z" fill="#ef4544"/><rect x="1370" y="359" width="6" height="8" fill="#ef5350"/>
<path d="M1377 318V376h2V318z" fill="#22a195"/><rect x="1376" y="338" width="5" height="29" fill="#26a69a"/>
<path d="M1383 332V395h2V332z" fill="#ef4544"/><rect x="1381" y="338" width="6" height="52" fill="#ef5350"/>
<path d="M1389 371V402h2V371z" fill="#22a195"/><rect x="1387" y="379" width="6" height="11" fill="#26a69a"/>
<path d="M1395 365V383h2V365z" fill="#22a195"/><rect x="1393" y="373" width="6" height="6" fill="#26a69a"/>
<path d="M1401 354V383h2V354z" fill="#22a195"/><rect x="1399" y="354" width="6" height="19" fill="#26a69a"/>
<path d="M1407 337V360h2V337z" fill="#22a195"/><rect x="1405" y="351" width="6" height="3" fill="#26a69a"/>
<path d="M1413 343V369h2V343z" fill="#ef4544"/><rect x="1411" y="351" width="6" height="10" fill="#ef5350"/>
<path d="M1419 327V369h2V327z" fill="#22a195"/><rect x="1417" y="331" width="6" height="30" fill="#26a69a"/>
<path d="M1424 288V332h2V288z" fill="#22a195"/><rect x="1423" y="306" width="5" height="25" fill="#26a69a"/>
<path d="M1430 290V315h2V290z" fill="#22a195"/><rect x="1428" y="305" width="6" height="2" fill="#26a69a"/>
<path d="M1436 302V333h2V302z" fill="#ef4544"/><rect x="1434" y="305" width="6" height="21" fill="#ef5350"/>
<path d="M1442 297V332h2V297z" fill="#22a195"/><rect x="1440" y="325" width="6" height="2" fill="#26a69a"/>
<path d="M1448 302V329h2V302z" fill="#22a195"/><rect x="1446" y="320" width="6" height="5" fill="#26a69a"/>
<path d="M1454 316V360h2V316z" fill="#ef4544"/><rect x="1452" y="320" width="6" height="40" fill="#ef5350"/>
<path d="M1460 338V365h2V338z" fill="#22a195"/><rect x="1458" y="351" width="6" height="9" fill="#26a69a"/>
<path d="M1465 351V381h2V351z" fill="#ef4544"/><rect x="1464" y="351" width="5" height="22" fill="#ef5350"/>
<path d="M1471 363V811h2V363z" fill="#ef4544"/><rect x="1469" y="373" width="6" height="123" fill="#ef5350"/>
<path d="M1477 458V515h2V458z" fill="#22a195"/><rect x="1475" y="492" width="6" height="4" fill="#26a69a"/>
<path d="M1483 435V512h2V435z" fill="#22a195"/><rect x="1481" y="451" width="6" height="41" fill="#26a69a"/>
<path d="M1489 417V455h2V417z" fill="#22a195"/><rect x="1487" y="429" width="6" height="22" fill="#26a69a"/>
<path d="M1495 424V490h2V424z" fill="#ef4544"/><rect x="1493" y="429" width="6" height="28" fill="#ef5350"/>
<path d="M1501 445V494h2V445z" fill="#ef4544"/><rect x="1499" y="457" width="6" height="27" fill="#ef5350"/>
<path d="M1507 468V520h2V468z" fill="#ef4544"/><rect x="1505" y="484" width="6" height="23" fill="#ef5350"/>
<path d="M1512 487V546h2V487z" fill="#ef4544"/><rect x="1511" y="507" width="5" height="11" fill="#ef5350"/>
<path d="M1518 489V518h2V489z" fill="#22a195"/><rect x="1516" y="499" width="6" height="19" fill="#26a69a"/>
<path d="M1524 481V510h2V481z" fill="#22a195"/><rect x="1522" y="490" width="6" height="9" fill="#26a69a"/>
<path d="M1530 443V500h2V443z" fill="#22a195"/><rect x="1528" y="460" width="6" height="30" fill="#26a69a"/>
<path d="M1536 449V487h2V449z" fill="#ef4544"/><rect x="1534" y="460" width="6" height="20" fill="#ef5350"/>
<path d="M1542 476V508h2V476z" fill="#ef4544"/><rect x="1540" y="480" width="6" height="18" fill="#ef5350"/>
<path d="M1548 479V498h2V479z" fill="#22a195"/><rect x="1546" y="489" width="6" height="9" fill="#26a69a"/>
<path d="M1553 455V491h2V455z" fill="#22a195"/><rect x="1552" y="455" width="5" height="34" fill="#26a69a"/>
<path d="M1559 415V458h2V415z" fill="#22a195"/><rect x="1557" y="431" width="6" height="24" fill="#26a69a"/>
<path d="M1565 412V432h2V412z" fill="#22a195"/><rect x="1563" y="417" width="6" height="14" fill="#26a69a"/>
<path d="M1571 403V430h2V403z" fill="#ef4544"/><rect x="1569" y="417" width="6" height="3" fill="#ef5350"/>
<path d="M1577 405V439h2V405z" fill="#ef4544"/><rect x="1575" y="420" width="6" height="7" fill="#ef5350"/>
<path d="M1583 412V448h2V412z" fill="#ef4544"/><rect x="1581" y="427" width="6" height="17" fill="#ef5350"/>
<path d="M1589 432V493h2V432z" fill="#ef4544"/><rect x="1587" y="444" width="6" height="33" fill="#ef5350"/>
<path d="M1595 443V478h2V443z" fill="#22a195"/><rect x="1593" y="456" width="6" height="21" fill="#26a69a"/>
<path d="M1600 452V465h2V452z" fill="#ef4544"/><rect x="1599" y="456" width="5" height="2" fill="#ef5350"/>
<path d="M1606 443V465h2V443z" fill="#22a195"/><rect x="1604" y="451" width="6" height="6" fill="#26a69a"/>
<path d="M1612 449V526h2V449z" fill="#ef4544"/><rect x="1610" y="451" width="6" height="61" fill="#ef5350"/>
<path d="M1618 496V581h2V496z" fill="#ef4544"/><rect x="1616" y="512" width="6" height="31" fill="#ef5350"/>
<path d="M1624 493V571h2V493z" fill="#22a195"/><rect x="1622" y="503" width="6" height="40" fill="#26a69a"/>
<path d="M1630 482V549h2V482z" fill="#ef4544"/><rect x="1628" y="503" width="6" height="38" fill="#ef5350"/>
<path d="M1636 494V557h2V494z" fill="#22a195"/><rect x="1634" y="511" width="6" height="30" fill="#26a69a"/>
<path d="M1641 504V531h2V504z" fill="#ef4544"/><rect x="1640" y="511" width="5" height="9" fill="#ef5350"/>
<path d="M1647 488V532h2V488z" fill="#22a195"/><rect x="1645" y="497" width="6" height="23" fill="#26a69a"/>
<path d="M1653 435V502h2V435z" fill="#22a195"/><rect x="1651" y="451" width="6" height="46" fill="#26a69a"/>
<path d="M1659 439V493h2V439z" fill="#ef4544"/><rect x="1657" y="451" width="6" height="38" fill="#ef5350"/>
<path d="M1665 473V510h2V473z" fill="#ef4544"/><rect x="1663" y="489" width="6" height="1" fill="#ef5350"/>
<path d="M1671 451V522h2V451z" fill="#ef4544"/><rect x="1669" y="490" width="6" height="19" fill="#ef5350"/>
<path d="M1677 503V536h2V503z" fill="#ef4544"/><rect x="1675" y="509" width="6" height="22" fill="#ef5350"/>
<path d="M1683 514V540h2V514z" fill="#ef4544"/><rect x="1681" y="531" width="6" height="2" fill="#ef5350"/>
<path d="M1688 521V556h2V521z" fill="#ef4544"/><rect x="1687" y="533" width="5" height="7" fill="#ef5350"/>
<path d="M1694 513V545h2V513z" fill="#22a195"/><rect x="1692" y="523" width="6" height="17" fill="#26a69a"/>
<path d="M20 523H1987" stroke="#26a69a" stroke-width="2" stroke-dasharray="2 4" fill="none"/>
</g>
<text x="37.1" y="94" font-size="23.4" fill="#131722" textLength="330.8" lengthAdjust="spacingAndGlyphs" stroke="#131722" stroke-width="0.5">XRP / TetherUS · 1D · Binance</text>
<text x="383.7" y="94" font-size="23.4" fill="#131722" textLength="16.6" lengthAdjust="spacingAndGlyphs" stroke="#131722" stroke-width="0.5">O</text>
<text x="402.3" y="94" font-size="23.4" fill="#26a69a" textLength="74.9" lengthAdjust="spacingAndGlyphs" stroke="#26a69a" stroke-width="0.5">2.2148</text>
<text x="493.5" y="94" font-size="23.4" fill="#131722" textLength="16" lengthAdjust="spacingAndGlyphs" stroke="#131722" stroke-width="0.5">H</text>
<text x="511.5" y="94" font-size="23.4" fill="#26a69a" textLength="75.5" lengthAdjust="spacingAndGlyphs" stroke="#26a69a" stroke-width="0.5">2.3077</text>
<text x="602.8" y="94" font-size="23.4" fill="#131722" textLength="11.5" lengthAdjust="spacingAndGlyphs" stroke="#131722" stroke-width="0.5">L</text>
<text x="616.3" y="94" font-size="23.4" fill="#26a69a" textLength="75.7" lengthAdjust="spacingAndGlyphs" stroke="#26a69a" stroke-width="0.5">2.1944</text>
<text x="707.3" y="94" font-size="23.4" fill="#131722" textLength="15.5" lengthAdjust="spacingAndGlyphs" stroke="#131722" stroke-width="0.5">C</text>
<text x="724.8" y="94" font-size="23.4" fill="#26a69a" textLength="76.2" lengthAdjust="spacingAndGlyphs" stroke="#26a69a" stroke-width="0.5">2.2724</text>
<text x="816.3" y="94" font-size="23.4" fill="#26a69a" textLength="204" lengthAdjust="spacingAndGlyphs" stroke="#26a69a" stroke-width="0.5">+0.0575 (+2.60%)</text>
<text x="37.1" y="128" font-size="23.4" fill="#131722" textLength="100.5" lengthAdjust="spacingAndGlyphs" stroke="#131722" stroke-width="0.5">Vol · XRP</text>
<text x="153.1" y="128" font-size="23.4" fill="#26a69a" textLength="83.4" lengthAdjust="spacingAndGlyphs" stroke="#26a69a" stroke-width="0.5">97.37 M</text>
<text x="37.1" y="162" font-size="23.4" fill="#131722" textLength="435" lengthAdjust="spacingAndGlyphs" stroke="#131722" stroke-width="0.5">EMA (50, close, 100, close, 200, close)</text>
<text x="489.7" y="162" font-size="23.4" fill="#ff2222" textLength="77.3" lengthAdjust="spacingAndGlyphs" stroke="#ff2222" stroke-width="0.5">2.4978</text>
<text x="582.6" y="162" font-size="23.4" fill="#2962ff" textLength="78.8" lengthAdjust="spacingAndGlyphs" stroke="#2962ff" stroke-width="0.5">2.6066</text>
<text x="677.6" y="162" font-size="23.4" fill="#9c27b0" textLength="78.3" lengthAdjust="spacingAndGlyphs" stroke="#9c27b0" stroke-width="0.5">2.5645</text>
<g clip-path="url(#cpAxMain)">
<rect x="1993.7" y="62.4" width="128" height="51" rx="9" fill="#fff" stroke="#ececee" stroke-width="1.6"/>
<text x="2013" y="96" font-size="23.4" fill="#131722" textLength="62.6" lengthAdjust="spacingAndGlyphs" stroke="#131722" stroke-width="0.2">USDT</text>
<text x="2005.6" y="183.4" font-size="23.4" fill="#131722" textLength="79.7" lengthAdjust="spacingAndGlyphs" stroke="#131722" stroke-width="0.1">3.5000</text>
<text x="2005.6" y="325.4" font-size="23.4" fill="#131722" textLength="79.7" lengthAdjust="spacingAndGlyphs" stroke="#131722" stroke-width="0.1">3.0000</text>
<text x="2005.6" y="608.8" font-size="23.4" fill="#131722" textLength="79.7" lengthAdjust="spacingAndGlyphs" stroke="#131722" stroke-width="0.1">2.0000</text>
<text x="2005.6" y="750.4" font-size="23.4" fill="#131722" textLength="79.7" lengthAdjust="spacingAndGlyphs" stroke="#131722" stroke-width="0.1">1.5000</text>
<path d="M1988 366H2094a4 4 0 0 1 4 4V396a4 4 0 0 1 -4 4H1988z" fill="#2962ff"/>
<text x="2005.6" y="391.4" font-size="23.4" fill="#fff" textLength="79.7" lengthAdjust="spacingAndGlyphs" stroke="#fff" stroke-width="0.1">2.6066</text>
<path d="M1988 400H2094a4 4 0 0 1 4 4V430a4 4 0 0 1 -4 4H1988z" fill="#9c27b0"/>
<text x="2005.6" y="425.4" font-size="23.4" fill="#fff" textLength="79.7" lengthAdjust="spacingAndGlyphs" stroke="#fff" stroke-width="0.1">2.5645</text>
<path d="M1988 434H2094a4 4 0 0 1 4 4V464a4 4 0 0 1 -4 4H1988z" fill="#ff2a2f"/>
<text x="2005.6" y="459.4" font-size="23.4" fill="#fff" textLength="79.7" lengthAdjust="spacingAndGlyphs" stroke="#fff" stroke-width="0.1">2.4978</text>
<path d="M1988 468.3H2094a4 4 0 0 1 4 4V497.7a4 4 0 0 1 -4 4H1988z" fill="#000"/>
<text x="2005.6" y="493.4" font-size="23.4" fill="#fff" textLength="79.7" lengthAdjust="spacingAndGlyphs" stroke="#fff" stroke-width="0.1">2.4069</text>
<path d="M1988 568.4H2094a4 4 0 0 1 4 4V597.4a4 4 0 0 1 -4 4H1988z" fill="#000"/>
<text x="2005.6" y="593.3" font-size="23.4" fill="#fff" textLength="79.7" lengthAdjust="spacingAndGlyphs" stroke="#fff" stroke-width="0.1">2.0710</text>
<path d="M1988 608.8H2094a4 4 0 0 1 4 4V638.4a4 4 0 0 1 -4 4H1988z" fill="#000"/>
<text x="2005.6" y="634" font-size="23.4" fill="#fff" textLength="79.7" lengthAdjust="spacingAndGlyphs" stroke="#fff" stroke-width="0.1">1.9083</text>
<path d="M1988 794H2094a4 4 0 0 1 4 4V823.4a4 4 0 0 1 -4 4H1988z" fill="#000"/>
<text x="2005.6" y="819.1" font-size="23.4" fill="#fff" textLength="79.7" lengthAdjust="spacingAndGlyphs" stroke="#fff" stroke-width="0.1">1.2575</text>
<path d="M1988 506.2H2115.8a4 4 0 0 1 4 4V563.6a4 4 0 0 1 -4 4H1988z" fill="#26a69a"/>
<text x="2005.6" y="532.4" font-size="23.4" fill="#fff" textLength="79.7" lengthAdjust="spacingAndGlyphs" stroke="#fff" stroke-width="0.1">2.2724</text>
<text x="2005.6" y="559.9" font-size="23.4" fill="#c9e9e5" textLength="100.4" lengthAdjust="spacingAndGlyphs" stroke="#c9e9e5" stroke-width="0.1">09:11:01</text>
<path d="M1988 828.2H2102a4 4 0 0 1 4 4V850H1988z" fill="#26a69a"/>
<text x="2005.3" y="852.8" font-size="23.4" fill="#fff" textLength="89" lengthAdjust="spacingAndGlyphs" stroke="#fff" stroke-width="0.1">97.37 M</text>
</g>
<g clip-path="url(#cpRsi)">
<rect x="20" y="904" width="1967" height="126.5" fill="#f2eef9"/>
<path d="M931 904L931 904L932.6 899.9L938.4 888L944.3 887.5L950.2 882.9L956 878.1L961.9 885.5L967.8 880.6L973.6 869.9L979.5 878L985.4 877.7L991.2 877L997.1 874.6L1003 874.5L1006.7 904L1006.7 904z" fill="url(#obGrad)"/>
<path d="M19.8 904H1987M19.8 1030.5H1987" stroke="#787b86" stroke-width="2" stroke-dasharray="10 12" fill="none"/>
<path d="M19.8 954.6H1987" stroke="#787b86" stroke-opacity="0.5" stroke-width="2" stroke-dasharray="10 12" fill="none"/>
<path d="M17.3 989.4L23.2 1007.4L29 1013.3L34.9 999.3L40.8 994.4L46.6 997.9L52.5 991.3L58.4 993L64.2 980.6L70.1 965L76 942.4L81.8 939.9L87.7 944.9L93.6 953.8L99.4 967.7L105.3 944.1L111.2 950.3L117 965.6L122.9 963.8L128.8 963.6L134.6 1003.7L140.5 994.8L146.4 1010.1L152.2 1008.8L158.1 1016.3L164 1004.2L169.8 920.9L175.7 963.5L181.6 958.2L187.4 954.6L193.3 947.4L199.2 964L205 968.8L210.9 983.2L216.8 992.1L222.6 975.5L228.5 968.6L234.4 966.6L240.2 957.3L246.1 954L252 963.3L257.9 958.4L263.7 963.7L269.6 939.4L275.5 950.4L281.3 955L287.2 956.1L293.1 949.2L298.9 948.1L304.8 949L310.7 959.9L316.5 960.9L322.4 978L328.3 987.1L334.1 985.8L340 993.2L345.9 982.3L351.7 998.2L357.6 989.6L363.5 976L369.3 973L375.2 1004.7L381.1 1008.1L386.9 1022.4L392.8 969.2L398.7 980.2L404.5 970.9L410.4 952.5L416.3 957.5L422.1 956.2L428 961.9L433.9 962.2L439.7 964.6L445.6 965.6L451.5 960.4L457.3 962.1L463.2 961.2L469.1 938.1L474.9 936.9L480.8 941.4L486.7 945.7L492.5 943.7L498.4 933.2L504.3 926.5L510.1 939.4L516 949.4L521.9 944.2L527.7 946.2L533.6 951.1L539.5 959.2L545.3 966L551.2 958.3L557.1 966.2L562.9 924.1L568.8 922.2L574.7 907.6L580.5 928L586.4 909.9L592.3 906.8L598.1 912.5L604 940L609.9 940.4L615.7 945.9L621.6 934.7L627.5 943.2L633.3 947.7L639.2 941.1L645.1 935.7L650.9 960.4L656.8 954.1L662.7 952.1L668.5 958.3L674.4 956.5L680.3 965.8L686.1 973.1L692 996.3L697.9 983.4L703.7 981.8L709.6 976.4L715.5 963.1L721.3 973.5L727.2 998.8L733.1 976.3L738.9 971.6L744.8 950.2L750.7 940.4L756.5 943.9L762.4 951.6L768.3 969.1L774.1 978.4L780 980.4L785.9 972L791.7 953.1L797.6 970.8L803.5 967.2L809.3 968.4L815.2 980L821.1 993.5L826.9 1005L832.8 960.4L838.7 952.7L844.5 953.9L850.4 972.9L856.3 963.3L862.2 953.3L868 948.7L873.9 941.8L879.8 957.5L885.6 944L891.5 938.9L897.4 948.4L903.2 948.6L909.1 936.5L915 937.3L920.8 929.6L926.7 915.1L932.6 899.9L938.4 888L944.3 887.5L950.2 882.9L956 878.1L961.9 885.5L967.8 880.6L973.6 869.9L979.5 878L985.4 877.7L991.2 877L997.1 874.6L1003 874.5L1008.8 920.8L1014.7 925.1L1020.6 925.5L1026.4 923.7L1032.3 917.9L1038.2 933.1L1044 932.3L1049.9 937.3L1055.8 948.1L1061.6 957.4L1067.5 984L1073.4 956.2L1079.2 942.1L1085.1 955.2L1091 951.9L1096.8 922.9L1102.7 926.6L1108.6 933.4L1114.4 937.8L1120.3 944.7L1126.2 931.2L1132 930.8L1137.9 954.1L1143.8 954.6L1149.6 951.1L1155.5 953.8L1161.4 957.1L1167.2 984.9L1173.1 968.6L1179 982L1184.8 950.5L1190.7 953.9L1196.6 956.5L1202.4 977.4L1208.3 956L1214.2 960.8L1220 961.1L1225.9 979.5L1231.8 979.7L1237.6 985.3L1243.5 987.7L1249.4 967.9L1255.2 970.9L1261.1 978.3L1267 973.1L1272.8 974.2L1278.7 960.8L1284.6 945.7L1290.4 949.7L1296.3 944.1L1302.2 935.7L1308 927.7L1313.9 925.9L1319.8 943L1325.6 948.3L1331.5 941.6L1337.4 934.5L1343.2 936.6L1349.1 953.3L1355 956.7L1360.8 958.5L1366.7 982.5L1372.6 988.3L1378.4 961.9L1384.3 995.3L1390.2 984.6L1396 979.1L1401.9 964.4L1407.8 962.1L1413.6 969.1L1419.5 947.7L1425.4 934.2L1431.2 933.4L1437.1 947.9L1443 947.1L1448.9 944L1454.7 972L1460.6 965.1L1466.5 980.1L1472.3 1048.1L1478.2 1043.4L1484.1 1001.1L1489.9 984.9L1495.8 998.1L1501.7 1010.5L1507.5 1021L1513.4 1025.8L1519.3 1007.4L1525.1 999.6L1531 977.2L1536.9 987L1542.7 995.8L1548.6 988.7L1554.5 965.6L1560.3 952.9L1566.2 946L1572.1 947.8L1577.9 951.8L1583.8 961.6L1589.7 980L1595.5 965.2L1601.4 966.2L1607.3 961.9L1613.1 996.7L1619 1012.4L1624.9 980.2L1630.7 997.9L1636.6 977.7L1642.5 981.7L1648.3 967.5L1654.2 946L1660.1 962.6L1665.9 962.8L1671.8 971.9L1677.7 982.3L1683.5 983.3L1689.4 986.5L1695.3 974.3" fill="none" stroke="#7e57c2" stroke-width="2" stroke-linejoin="round"/>
<path d="M17.3 937.5L23.2 941.6L29 948.6L34.9 955.7L40.8 960.9L46.6 966L52.5 970.9L58.4 976L64.2 979.9L70.1 983.1L76 984.2L81.8 983.5L87.7 980.6L93.6 977.4L99.4 975.9L105.3 971.4L111.2 967.3L117 965.1L122.9 963.1L128.8 960.9L134.6 961.6L140.5 961.7L146.4 963.4L152.2 966.1L158.1 971.1L164 975.8L169.8 973.5L175.7 974.3L181.6 973.5L187.4 974.4L193.3 974.2L199.2 974.1L205 974.4L210.9 975.9L216.8 975.1L222.6 973.9L228.5 971.2L234.4 968.5L240.2 964.8L246.1 961.6L252 965.1L257.9 964.7L263.7 965.1L269.6 963.9L275.5 964.1L281.3 963.5L287.2 962.5L293.1 960.2L298.9 957.3L304.8 955.4L310.7 954.9L316.5 954.5L322.4 955.8L328.3 958L334.1 959.4L340 961.7L345.9 962.9L351.7 967.1L357.6 969.8L363.5 971.4L369.3 972.7L375.2 976.6L381.1 980.9L386.9 986.1L392.8 986.9L398.7 988.5L404.5 987.9L410.4 985.1L416.3 982.9L422.1 980.2L428 978.6L433.9 976.1L439.7 974.3L445.6 973.6L451.5 972.6L457.3 969.8L463.2 966.8L469.1 961.3L474.9 958.9L480.8 956.2L486.7 954.4L492.5 953.8L498.4 951.9L504.3 949.7L510.1 948.1L516 947.2L521.9 945.8L527.7 944.5L533.6 943.9L539.5 943.7L545.3 944L551.2 945.5L557.1 947.5L562.9 946.1L568.8 944.3L574.7 941.4L580.5 941L586.4 939.6L592.3 937.1L598.1 934.3L604 934L609.9 933.6L615.7 933.3L621.6 931.7L627.5 930.3L633.3 929.7L639.2 928.2L645.1 929L650.9 931.5L656.8 934.9L662.7 936.6L668.5 940.2L674.4 944L680.3 948L686.1 950.2L692 953.8L697.9 956.4L703.7 959.7L709.6 962.1L715.5 963.3L721.3 965.7L727.2 970.3L733.1 971.4L738.9 972.8L744.8 972.6L750.7 971.1L756.5 970.1L762.4 969L768.3 968.7L774.1 967.6L780 967.4L785.9 966.8L791.7 965.1L797.6 965.6L803.5 965.2L809.3 963.3L815.2 963.5L821.1 964.9L826.9 968.5L832.8 970.2L838.7 970.9L844.5 971.1L850.4 971.4L856.3 970.3L862.2 968.3L868 966.6L873.9 965.6L879.8 964.7L885.6 962.9L891.5 960.7L897.4 958.5L903.2 955.6L909.1 951.2L915 949.5L920.8 947.8L926.7 944.8L932.6 939.3L938.4 933.5L944.3 928.4L950.2 923.3L956 918.4L961.9 913.4L967.8 908.9L973.6 903.8L979.5 899.1L985.4 894.5L991.2 890.6L997.1 886.6L1003 883.1L1008.8 883.4L1014.7 884.9L1020.6 887.3L1026.4 889.6L1032.3 891.9L1038.2 895.6L1044 898.7L1049.9 902.5L1055.8 908L1061.6 913.5L1067.5 920.6L1073.4 926.6L1079.2 932.2L1085.1 938.9L1091 941.2L1096.8 941L1102.7 941.1L1108.6 941.8L1114.4 943.4L1120.3 944.2L1126.2 944.2L1132 943.7L1137.9 944.1L1143.8 943.9L1149.6 941.9L1155.5 941.7L1161.4 942.8L1167.2 944.5L1173.1 945.6L1179 949.7L1184.8 951.6L1190.7 953.1L1196.6 954.5L1202.4 956.8L1208.3 958.7L1214.2 961.1L1220 961.6L1225.9 963.3L1231.8 965.4L1237.6 967.6L1243.5 969.7L1249.4 968.6L1255.2 968.7L1261.1 968.5L1267 970.2L1272.8 971.7L1278.7 972L1284.6 969.6L1290.4 969.1L1296.3 967.8L1302.2 965.7L1308 961.8L1313.9 957.7L1319.8 954.8L1325.6 952.3L1331.5 950.4L1337.4 947.9L1343.2 945.1L1349.1 943.9L1355 942.8L1360.8 942.6L1366.7 944.9L1372.6 947.3L1378.4 948.5L1384.3 952.4L1390.2 956.5L1396 960.4L1401.9 962L1407.8 963.1L1413.6 965.2L1419.5 966.3L1425.4 966.1L1431.2 964.4L1437.1 963.7L1443 962.9L1448.9 960.1L1454.7 959.1L1460.6 959.3L1466.5 958.4L1472.3 961.6L1478.2 964.9L1484.1 967.3L1489.9 968.8L1495.8 970.7L1501.7 975.1L1507.5 981.4L1513.4 988.3L1519.3 993L1525.1 997.4L1531 1000.4L1536.9 1001.7L1542.7 1004.2L1548.6 1004.9L1554.5 999.2L1560.3 992.7L1566.2 988.3L1572.1 985.2L1577.9 981.7L1583.8 978.3L1589.7 975.8L1595.5 972L1601.4 969.4L1607.3 966.9L1613.1 968.1L1619 969.6L1624.9 968.6L1630.7 969.2L1636.6 970L1642.5 972.2L1648.3 973.9L1654.2 973.7L1660.1 974.6L1665.9 974.7L1671.8 974.1L1677.7 975.3L1683.5 976.6L1689.4 978.4L1695.3 976.8" fill="none" stroke="#fdd835" stroke-width="2" stroke-linejoin="round"/>
</g>
<text x="37.1" y="887.2" font-size="23.4" fill="#131722" textLength="158.3" lengthAdjust="spacingAndGlyphs" stroke="#131722" stroke-width="0.5">RSI (14, close)</text>
<text x="212.7" y="887.2" font-size="23.4" fill="#7e57c2" textLength="60.3" lengthAdjust="spacingAndGlyphs" stroke="#7e57c2" stroke-width="0.5">43.61</text>
<text x="288.3" y="887.2" font-size="23.4" fill="#fdd835" textLength="64.1" lengthAdjust="spacingAndGlyphs" stroke="#fdd835" stroke-width="0.5">42.88</text>
<g clip-path="url(#cpAxRsi)">
<text x="2005.6" y="859.1" font-size="23.4" fill="#131722" textLength="79.7" lengthAdjust="spacingAndGlyphs" stroke="#131722" stroke-width="0.1">100.00</text>
<text x="2005.6" y="963" font-size="23.4" fill="#131722" textLength="64.7" lengthAdjust="spacingAndGlyphs" stroke="#131722" stroke-width="0.1">50.00</text>
<text x="2005.6" y="1038.9" font-size="23.4" fill="#131722" textLength="64.7" lengthAdjust="spacingAndGlyphs" stroke="#131722" stroke-width="0.1">30.00</text>
<path d="M1988 958H2077.8a4 4 0 0 1 4 4V987.8a4 4 0 0 1 -4 4H1988z" fill="#7e57c2"/>
<text x="2005.6" y="983.3" font-size="23.4" fill="#fff" textLength="64.7" lengthAdjust="spacingAndGlyphs" stroke="#fff" stroke-width="0.1">43.61</text>
<path d="M1988 991.8H2077.8a4 4 0 0 1 4 4V1021.4a4 4 0 0 1 -4 4H1988z" fill="#fdd835"/>
<text x="2005.6" y="1017" font-size="23.4" fill="#131722" textLength="64.7" lengthAdjust="spacingAndGlyphs" stroke="#131722" stroke-width="0.1">42.88</text>
</g>
<g clip-path="url(#cpMacd)">
<path d="M80 1223V1228h3V1223zM86 1219V1228h3V1219zM92 1219V1228h3V1219zM104 1219V1228h3V1219zM110 1218V1228h3V1218zM168 1223V1228h3V1223zM180 1222V1228h3V1222zM186 1220V1228h3V1220zM192 1217V1228h3V1217zM245 1223V1228h3V1223zM250 1223V1228h3V1223zM256 1222V1228h3V1222zM268 1216V1228h3V1216zM274 1215V1228h3V1215zM292 1218V1228h3V1218zM297 1218V1228h3V1218zM409 1224V1228h3V1224zM415 1221V1228h3V1221zM421 1219V1228h3V1219zM426 1219V1228h3V1219zM450 1220V1228h3V1220zM468 1218V1228h3V1218zM473 1216V1228h3V1216zM479 1216V1228h3V1216zM497 1217V1228h3V1217zM503 1216V1228h3V1216zM561 1225V1228h3V1225zM567 1222V1228h3V1222zM573 1218V1228h3V1218zM585 1214V1228h3V1214zM591 1212V1228h3V1212zM749 1225V1228h3V1225zM755 1223V1228h3V1223zM761 1223V1228h3V1223zM843 1225V1228h3V1225zM855 1226V1228h3V1226zM861 1225V1228h3V1225zM867 1223V1228h3V1223zM872 1222V1228h3V1222zM884 1222V1228h3V1222zM890 1221V1228h3V1221zM908 1221V1228h3V1221zM913 1221V1228h3V1221zM919 1221V1228h3V1221zM925 1218V1228h3V1218zM931 1214V1228h3V1214zM937 1207V1228h3V1207zM943 1204V1228h3V1204zM949 1201V1228h3V1201zM955 1198V1228h3V1198zM966 1198V1228h3V1198zM972 1189V1228h3V1189zM978 1187V1228h3V1187zM1283 1223V1228h3V1223zM1289 1221V1228h3V1221zM1295 1219V1228h3V1219zM1301 1217V1228h3V1217zM1307 1214V1228h3V1214zM1312 1213V1228h3V1213zM1424 1223V1228h3V1223zM1430 1220V1228h3V1220zM1553 1223V1228h3V1223zM1559 1218V1228h3V1218zM1565 1214V1228h3V1214zM1571 1212V1228h3V1212zM1576 1211V1228h3V1211zM1653 1223V1228h3V1223zM1659 1222V1228h3V1222zM1664 1222V1228h3V1222z" fill="#26a69a"/>
<path d="M98 1221V1228h3V1221zM116 1221V1228h3V1221zM121 1223V1228h3V1223zM127 1224V1228h3V1224zM174 1224V1228h3V1224zM198 1220V1228h3V1220zM204 1224V1228h3V1224zM262 1222V1228h3V1222zM280 1217V1228h3V1217zM286 1218V1228h3V1218zM303 1218V1228h3V1218zM309 1221V1228h3V1221zM315 1223V1228h3V1223zM432 1219V1228h3V1219zM438 1220V1228h3V1220zM444 1220V1228h3V1220zM456 1220V1228h3V1220zM462 1221V1228h3V1221zM485 1217V1228h3V1217zM491 1218V1228h3V1218zM509 1218V1228h3V1218zM514 1220V1228h3V1220zM520 1221V1228h3V1221zM526 1223V1228h3V1223zM532 1224V1228h3V1224zM538 1226V1228h3V1226zM579 1218V1228h3V1218zM597 1212V1228h3V1212zM602 1217V1228h3V1217zM608 1221V1228h3V1221zM614 1225V1228h3V1225zM620 1226V1228h3V1226zM767 1225V1228h3V1225zM849 1226V1228h3V1226zM878 1223V1228h3V1223zM896 1222V1228h3V1222zM902 1222V1228h3V1222zM960 1199V1228h3V1199zM984 1189V1228h3V1189zM990 1192V1228h3V1192zM996 1194V1228h3V1194zM1001 1197V1228h3V1197zM1007 1211V1228h3V1211zM1013 1222V1228h3V1222zM1318 1215V1228h3V1215zM1324 1217V1228h3V1217zM1330 1219V1228h3V1219zM1336 1219V1228h3V1219zM1342 1219V1228h3V1219zM1348 1222V1228h3V1222zM1353 1225V1228h3V1225zM1359 1226V1228h3V1226zM1436 1221V1228h3V1221zM1441 1221V1228h3V1221zM1447 1221V1228h3V1221zM1453 1225V1228h3V1225zM1459 1226V1228h3V1226zM1582 1213V1228h3V1213zM1588 1217V1228h3V1217zM1594 1219V1228h3V1219zM1600 1220V1228h3V1220zM1606 1220V1228h3V1220zM1612 1225V1228h3V1225zM1670 1223V1228h3V1223zM1676 1226V1228h3V1226z" fill="#b2dfdb"/>
<path d="M33 1226V1270h3V1226zM39 1226V1266h3V1226zM45 1226V1262h3V1226zM51 1226V1257h3V1226zM57 1226V1252h3V1226zM63 1226V1246h3V1226zM69 1226V1239h3V1226zM74 1226V1230h3V1226zM162 1226V1243h3V1226zM221 1226V1237h3V1226zM227 1226V1235h3V1226zM233 1226V1232h3V1226zM239 1226V1228h3V1226zM344 1226V1237h3V1226zM356 1226V1238h3V1226zM362 1226V1235h3V1226zM368 1226V1233h3V1226zM391 1226V1235h3V1226zM397 1226V1233h3V1226zM403 1226V1230h3V1226zM644 1226V1230h3V1226zM673 1226V1234h3V1226zM702 1226V1239h3V1226zM708 1226V1237h3V1226zM714 1226V1235h3V1226zM720 1226V1234h3V1226zM732 1226V1234h3V1226zM737 1226V1233h3V1226zM743 1226V1229h3V1226zM790 1226V1228h3V1226zM802 1226V1228h3V1226zM808 1226V1228h3V1226zM831 1226V1230h3V1226zM837 1226V1228h3V1226zM1072 1226V1257h3V1226zM1078 1226V1252h3V1226zM1084 1226V1251h3V1226zM1089 1226V1248h3V1226zM1095 1226V1238h3V1226zM1101 1226V1232h3V1226zM1107 1226V1230h3V1226zM1113 1226V1230h3V1226zM1125 1226V1229h3V1226zM1131 1226V1228h3V1226zM1183 1226V1239h3V1226zM1189 1226V1236h3V1226zM1195 1226V1234h3V1226zM1207 1226V1234h3V1226zM1213 1226V1233h3V1226zM1219 1226V1232h3V1226zM1248 1226V1235h3V1226zM1254 1226V1233h3V1226zM1260 1226V1233h3V1226zM1265 1226V1232h3V1226zM1271 1226V1230h3V1226zM1277 1226V1228h3V1226zM1377 1226V1233h3V1226zM1395 1226V1237h3V1226zM1400 1226V1234h3V1226zM1406 1226V1232h3V1226zM1412 1226V1231h3V1226zM1418 1226V1228h3V1226zM1483 1226V1248h3V1226zM1488 1226V1244h3V1226zM1494 1226V1243h3V1226zM1518 1226V1243h3V1226zM1524 1226V1239h3V1226zM1529 1226V1233h3V1226zM1535 1226V1231h3V1226zM1541 1226V1230h3V1226zM1547 1226V1228h3V1226zM1623 1226V1231h3V1226zM1635 1226V1233h3V1226zM1641 1226V1232h3V1226zM1647 1226V1229h3V1226zM1694 1226V1228h3V1226z" fill="#ffcdd2"/>
<path d="M22 1226V1269h3V1226zM28 1226V1272h3V1226zM133 1226V1233h3V1226zM139 1226V1236h3V1226zM145 1226V1241h3V1226zM151 1226V1243h3V1226zM157 1226V1244h3V1226zM209 1226V1231h3V1226zM215 1226V1237h3V1226zM321 1226V1228h3V1226zM327 1226V1233h3V1226zM333 1226V1235h3V1226zM338 1226V1237h3V1226zM350 1226V1239h3V1226zM374 1226V1236h3V1226zM380 1226V1238h3V1226zM385 1226V1240h3V1226zM544 1226V1228h3V1226zM550 1226V1229h3V1226zM556 1226V1230h3V1226zM626 1226V1228h3V1226zM632 1226V1230h3V1226zM638 1226V1230h3V1226zM649 1226V1233h3V1226zM655 1226V1233h3V1226zM661 1226V1234h3V1226zM667 1226V1234h3V1226zM679 1226V1235h3V1226zM685 1226V1236h3V1226zM690 1226V1239h3V1226zM696 1226V1239h3V1226zM726 1226V1236h3V1226zM773 1226V1228h3V1226zM779 1226V1229h3V1226zM784 1226V1229h3V1226zM796 1226V1228h3V1226zM814 1226V1229h3V1226zM820 1226V1231h3V1226zM825 1226V1233h3V1226zM1019 1226V1231h3V1226zM1025 1226V1236h3V1226zM1031 1226V1238h3V1226zM1037 1226V1243h3V1226zM1043 1226V1245h3V1226zM1048 1226V1248h3V1226zM1054 1226V1251h3V1226zM1060 1226V1254h3V1226zM1066 1226V1259h3V1226zM1119 1226V1231h3V1226zM1136 1226V1231h3V1226zM1142 1226V1234h3V1226zM1148 1226V1235h3V1226zM1154 1226V1236h3V1226zM1160 1226V1237h3V1226zM1166 1226V1242h3V1226zM1172 1226V1242h3V1226zM1177 1226V1244h3V1226zM1201 1226V1237h3V1226zM1224 1226V1235h3V1226zM1230 1226V1236h3V1226zM1236 1226V1238h3V1226zM1242 1226V1238h3V1226zM1365 1226V1231h3V1226zM1371 1226V1234h3V1226zM1383 1226V1237h3V1226zM1389 1226V1237h3V1226zM1465 1226V1230h3V1226zM1471 1226V1242h3V1226zM1477 1226V1248h3V1226zM1500 1226V1244h3V1226zM1506 1226V1245h3V1226zM1512 1226V1245h3V1226zM1617 1226V1231h3V1226zM1629 1226V1234h3V1226zM1682 1226V1228h3V1226zM1688 1226V1229h3V1226z" fill="#ff5252"/>
<path d="M19.8 1227H1987" stroke="#787b86" stroke-opacity="0.5" stroke-width="2" stroke-dasharray="10 12" fill="none"/>
<path d="M17.3 1217.2L23.2 1232.9L29 1246.9L34.9 1255.5L40.8 1261.1L46.6 1266L52.5 1268.4L58.4 1270.1L64.2 1269.2L70.1 1265.2L76 1256.3L81.8 1248.3L87.7 1242.9L93.6 1240.4L99.4 1241.4L105.3 1236.6L111.2 1234.3L117 1235.9L122.9 1236.8L128.8 1237.3L134.6 1246.8L140.5 1252.8L146.4 1260.9L152.2 1266.8L158.1 1272.6L164 1275.3L169.8 1254.1L175.7 1253.9L181.6 1251.4L187.4 1247.8L193.3 1241.7L199.2 1243.3L205 1246.3L210.9 1254L216.8 1263.3L222.6 1265.6L228.5 1264.9L234.4 1263.3L240.2 1258.7L246.1 1253.6L252 1252.4L257.9 1249.7L263.7 1248.9L269.6 1240.1L275.5 1236.7L281.3 1235.4L287.2 1234.6L293.1 1231.8L298.9 1229.3L304.8 1227.5L310.7 1228.8L316.5 1230.1L322.4 1235.1L328.3 1241.2L334.1 1245.6L340 1250.5L345.9 1252.5L351.7 1257.2L357.6 1259.4L363.5 1258.7L369.3 1257.3L375.2 1262.7L381.1 1267.2L386.9 1273.5L392.8 1269.9L398.7 1269.5L404.5 1266.9L410.4 1260.1L416.3 1255.7L422.1 1251.6L428 1249.4L433.9 1247.5L439.7 1246.3L445.6 1245.3L451.5 1243.5L457.3 1242.1L463.2 1240.8L469.1 1235.6L474.9 1231.1L480.8 1228.3L486.7 1226.7L492.5 1225.1L498.4 1222.1L504.3 1218.5L510.1 1217.5L516 1218.3L521.9 1218.1L527.7 1218.4L533.6 1219.3L539.5 1221.1L545.3 1223.4L551.2 1224.4L557.1 1226.1L562.9 1221.3L568.8 1217.3L574.7 1210.3L580.5 1208.2L586.4 1201.3L592.3 1195.1L598.1 1191.5L604 1194.1L609.9 1196.6L615.7 1199.9L621.6 1200.4L627.5 1202.6L633.3 1205.3L639.2 1206.5L645.1 1206.5L650.9 1210.9L656.8 1213.4L662.7 1215.3L668.5 1217.8L674.4 1219.6L680.3 1222.4L686.1 1225.7L692 1231.5L697.9 1234.9L703.7 1237.2L709.6 1238.4L715.5 1237.8L721.3 1238.6L727.2 1242.4L733.1 1243.1L738.9 1243L744.8 1239.9L750.7 1235.7L756.5 1232.8L762.4 1231.5L768.3 1232.9L774.1 1235.2L780 1237.2L785.9 1237.8L791.7 1236L797.6 1236.9L803.5 1237L809.3 1237.2L815.2 1238.6L821.1 1241.3L826.9 1244.7L832.8 1242.8L838.7 1240.1L844.5 1238L850.4 1238.8L856.3 1238.2L862.2 1236.3L868 1234.1L873.9 1231.2L879.8 1231L885.6 1228.9L891.5 1226.4L897.4 1225.7L903.2 1225.2L909.1 1223L915 1221.5L920.8 1219.2L926.7 1214.7L932.6 1206.9L938.4 1195.4L944.3 1186.6L950.2 1177.2L956 1166.6L961.9 1160.3L967.8 1152.6L973.6 1133.8L979.5 1122.2L985.4 1114L991.2 1108L997.1 1101.8L1003 1098.1L1008.8 1107.9L1014.7 1118.1L1020.6 1127.5L1026.4 1135.2L1032.3 1140.1L1038.2 1148.5L1044 1155.7L1049.9 1163.2L1055.8 1172L1061.6 1181.5L1067.5 1195.2L1073.4 1200.9L1079.2 1201.9L1085.1 1206.3L1091 1209.1L1096.8 1201.5L1102.7 1197L1108.6 1195.6L1114.4 1196L1120.3 1198.4L1126.2 1196.3L1132 1194.9L1137.9 1200L1143.8 1204.5L1149.6 1207.4L1155.5 1210.5L1161.4 1213.8L1167.2 1222.8L1173.1 1226.9L1179 1233.4L1184.8 1231.4L1190.7 1230.7L1196.6 1230.8L1202.4 1236L1208.3 1235.2L1214.2 1235.7L1220 1236.1L1225.9 1240.8L1231.8 1244.4L1237.6 1248.3L1243.5 1251.7L1249.4 1250.9L1255.2 1250.5L1261.1 1251.6L1267 1251.3L1272.8 1251L1278.7 1248.5L1284.6 1243.4L1290.4 1240L1296.3 1236.1L1302.2 1231.1L1308 1225.3L1313.9 1220.3L1319.8 1219.3L1325.6 1219.5L1331.5 1218.5L1337.4 1216.4L1343.2 1215.2L1349.1 1216.9L1355 1218.8L1360.8 1220.7L1366.7 1225.7L1372.6 1230.5L1378.4 1231.1L1384.3 1237.1L1390.2 1240.5L1396 1242.3L1401.9 1241.6L1407.8 1240.6L1413.6 1240.7L1419.5 1237.4L1425.4 1232.1L1431.2 1227.6L1437.1 1226.4L1443 1225.4L1448.9 1224.1L1454.7 1227.3L1460.6 1228.9L1466.5 1232.5L1472.3 1248.4L1478.2 1260.2L1484.1 1264.6L1489.9 1265.3L1495.8 1268.5L1501.7 1273.4L1507.5 1279.1L1513.4 1284.2L1519.3 1285.4L1525.1 1284.8L1531 1280.5L1536.9 1278.6L1542.7 1278.4L1548.6 1276.8L1554.5 1271.3L1560.3 1264L1566.2 1256.3L1572.1 1250.3L1577.9 1246.1L1583.8 1244.4L1589.7 1246.3L1595.5 1245.3L1601.4 1244.5L1607.3 1243.1L1613.1 1248.3L1619 1255.3L1624.9 1256.3L1630.7 1260.8L1636.6 1260.7L1642.5 1261.2L1648.3 1258.7L1654.2 1251.6L1660.1 1249.8L1665.9 1248.1L1671.8 1248.7L1677.7 1251.3L1683.5 1253.2L1689.4 1255.1L1695.3 1254.5" fill="none" stroke="#2962ff" stroke-width="2" stroke-linejoin="round"/>
<path d="M17.3 1180.7L23.2 1191.1L29 1202.3L34.9 1212.9L40.8 1222.6L46.6 1231.2L52.5 1238.7L58.4 1245L64.2 1249.8L70.1 1252.9L76 1253.6L81.8 1252.5L87.7 1250.6L93.6 1248.6L99.4 1247.1L105.3 1245L111.2 1242.9L117 1241.5L122.9 1240.5L128.8 1239.9L134.6 1241.3L140.5 1243.6L146.4 1247L152.2 1251L158.1 1255.3L164 1259.3L169.8 1258.3L175.7 1257.4L181.6 1256.2L187.4 1254.5L193.3 1252L199.2 1250.2L205 1249.5L210.9 1250.4L216.8 1253L222.6 1255.5L228.5 1257.4L234.4 1258.6L240.2 1258.6L246.1 1257.6L252 1256.5L257.9 1255.2L263.7 1253.9L269.6 1251.2L275.5 1248.3L281.3 1245.7L287.2 1243.5L293.1 1241.2L298.9 1238.8L304.8 1236.5L310.7 1235L316.5 1234L322.4 1234.2L328.3 1235.6L334.1 1237.6L340 1240.2L345.9 1242.7L351.7 1245.6L357.6 1248.3L363.5 1250.4L369.3 1251.8L375.2 1254L381.1 1256.6L386.9 1260L392.8 1262L398.7 1263.5L404.5 1264.1L410.4 1263.3L416.3 1261.8L422.1 1259.8L428 1257.7L433.9 1255.7L439.7 1253.8L445.6 1252.1L451.5 1250.4L457.3 1248.7L463.2 1247.1L469.1 1244.8L474.9 1242.1L480.8 1239.3L486.7 1236.8L492.5 1234.5L498.4 1232L504.3 1229.3L510.1 1226.9L516 1225.2L521.9 1223.8L527.7 1222.7L533.6 1222L539.5 1221.9L545.3 1222.2L551.2 1222.6L557.1 1223.3L562.9 1222.9L568.8 1221.8L574.7 1219.5L580.5 1217.2L586.4 1214L592.3 1210.2L598.1 1206.5L604 1204L609.9 1202.6L615.7 1202L621.6 1201.7L627.5 1201.9L633.3 1202.6L639.2 1203.3L645.1 1204L650.9 1205.4L656.8 1207L662.7 1208.6L668.5 1210.5L674.4 1212.3L680.3 1214.3L686.1 1216.6L692 1219.6L697.9 1222.6L703.7 1225.5L709.6 1228.1L715.5 1230.1L721.3 1231.8L727.2 1233.9L733.1 1235.7L738.9 1237.2L744.8 1237.7L750.7 1237.3L756.5 1236.4L762.4 1235.4L768.3 1234.9L774.1 1235L780 1235.4L785.9 1235.9L791.7 1235.9L797.6 1236.1L803.5 1236.3L809.3 1236.5L815.2 1236.9L821.1 1237.8L826.9 1239.2L832.8 1239.9L838.7 1239.9L844.5 1239.6L850.4 1239.4L856.3 1239.2L862.2 1238.6L868 1237.7L873.9 1236.4L879.8 1235.3L885.6 1234L891.5 1232.5L897.4 1231.1L903.2 1229.9L909.1 1228.6L915 1227.2L920.8 1225.6L926.7 1223.4L932.6 1220.1L938.4 1215.2L944.3 1209.4L950.2 1203L956 1195.7L961.9 1188.6L967.8 1181.4L973.6 1171.9L979.5 1162L985.4 1152.4L991.2 1143.5L997.1 1135.2L1003 1127.7L1008.8 1123.8L1014.7 1122.7L1020.6 1123.6L1026.4 1125.9L1032.3 1128.8L1038.2 1132.7L1044 1137.3L1049.9 1142.5L1055.8 1148.4L1061.6 1155L1067.5 1163.1L1073.4 1170.6L1079.2 1176.9L1085.1 1182.8L1091 1188L1096.8 1190.7L1102.7 1192L1108.6 1192.7L1114.4 1193.4L1120.3 1194.4L1126.2 1194.8L1132 1194.8L1137.9 1195.8L1143.8 1197.6L1149.6 1199.5L1155.5 1201.7L1161.4 1204.1L1167.2 1207.9L1173.1 1211.7L1179 1216L1184.8 1219.1L1190.7 1221.4L1196.6 1223.3L1202.4 1225.8L1208.3 1227.7L1214.2 1229.3L1220 1230.7L1225.9 1232.7L1231.8 1235L1237.6 1237.7L1243.5 1240.5L1249.4 1242.6L1255.2 1244.2L1261.1 1245.6L1267 1246.8L1272.8 1247.6L1278.7 1247.8L1284.6 1246.9L1290.4 1245.5L1296.3 1243.6L1302.2 1241.1L1308 1238L1313.9 1234.4L1319.8 1231.4L1325.6 1229L1331.5 1226.9L1337.4 1224.8L1343.2 1222.9L1349.1 1221.7L1355 1221.1L1360.8 1221L1366.7 1222L1372.6 1223.7L1378.4 1225.2L1384.3 1227.6L1390.2 1230.1L1396 1232.6L1401.9 1234.4L1407.8 1235.6L1413.6 1236.6L1419.5 1236.8L1425.4 1235.8L1431.2 1234.2L1437.1 1232.7L1443 1231.2L1448.9 1229.8L1454.7 1229.3L1460.6 1229.2L1466.5 1229.9L1472.3 1233.6L1478.2 1238.9L1484.1 1244L1489.9 1248.3L1495.8 1252.3L1501.7 1256.5L1507.5 1261.1L1513.4 1265.7L1519.3 1269.6L1525.1 1272.7L1531 1274.2L1536.9 1275.1L1542.7 1275.8L1548.6 1276L1554.5 1275L1560.3 1272.8L1566.2 1269.5L1572.1 1265.7L1577.9 1261.8L1583.8 1258.3L1589.7 1255.9L1595.5 1253.8L1601.4 1251.9L1607.3 1250.2L1613.1 1249.8L1619 1250.9L1624.9 1252L1630.7 1253.7L1636.6 1255.1L1642.5 1256.3L1648.3 1256.8L1654.2 1255.8L1660.1 1254.6L1665.9 1253.3L1671.8 1252.4L1677.7 1252.1L1683.5 1252.4L1689.4 1252.9L1695.3 1253.2" fill="none" stroke="#f23645" stroke-width="2" stroke-linejoin="round"/>
</g>
<text x="37.1" y="1112.2" font-size="23.4" fill="#131722" textLength="234.6" lengthAdjust="spacingAndGlyphs" stroke="#131722" stroke-width="0.5">MACD (12, 26, close)</text>
<text x="288.8" y="1112.2" font-size="23.4" fill="#ffcdd2" textLength="93.7" lengthAdjust="spacingAndGlyphs" stroke="#ffcdd2" stroke-width="0.5">−0.0034</text>
<text x="398.6" y="1112.2" font-size="23.4" fill="#2962ff" textLength="90.7" lengthAdjust="spacingAndGlyphs" stroke="#2962ff" stroke-width="0.5">−0.0723</text>
<text x="505.3" y="1112.2" font-size="23.4" fill="#f23645" textLength="93.7" lengthAdjust="spacingAndGlyphs" stroke="#f23645" stroke-width="0.5">−0.0690</text>
<g clip-path="url(#cpAxMacd)">
<text x="2005.6" y="1158.4" font-size="23.4" fill="#131722" textLength="79.7" lengthAdjust="spacingAndGlyphs" stroke="#131722" stroke-width="0.1">0.2000</text>
<path d="M1988 1212.2H2107.7a4 4 0 0 1 4 4V1241.4a4 4 0 0 1 -4 4H1988z" fill="#ffcdd2"/>
<text x="2005" y="1237.2" font-size="23.4" fill="#131722" textLength="95.7" lengthAdjust="spacingAndGlyphs" stroke="#131722" stroke-width="0.1">−0.0034</text>
<path d="M1988 1245.6H2107.7a4 4 0 0 1 4 4V1275.8a4 4 0 0 1 -4 4H1988z" fill="#f23645"/>
<text x="2005" y="1271.1" font-size="23.4" fill="#fff" textLength="95.7" lengthAdjust="spacingAndGlyphs" stroke="#fff" stroke-width="0.1">−0.0690</text>
<path d="M1988 1280H2107.7a4 4 0 0 1 4 4V1310a4 4 0 0 1 -4 4H1988z" fill="#2962ff"/>
<text x="2005" y="1305.4" font-size="23.4" fill="#fff" textLength="95.7" lengthAdjust="spacingAndGlyphs" stroke="#fff" stroke-width="0.1">−0.0723</text>
</g>
<g clip-path="url(#cpTime)">
<text x="143.6" y="1346" font-size="23.4" fill="#131722" textLength="41.9" lengthAdjust="spacingAndGlyphs" stroke="#131722" stroke-width="0.5">Mar</text>
<text x="327" y="1346" font-size="23.4" fill="#131722" textLength="38.9" lengthAdjust="spacingAndGlyphs" stroke="#131722" stroke-width="0.5">Apr</text>
<text x="499.7" y="1346" font-size="23.4" fill="#131722" textLength="45.6" lengthAdjust="spacingAndGlyphs" stroke="#131722" stroke-width="0.5">May</text>
<text x="684.4" y="1346" font-size="23.4" fill="#131722" textLength="39.8" lengthAdjust="spacingAndGlyphs" stroke="#131722" stroke-width="0.5">Jun</text>
<text x="864.7" y="1346" font-size="23.4" fill="#131722" textLength="31.4" lengthAdjust="spacingAndGlyphs" stroke="#131722" stroke-width="0.5">Jul</text>
<text x="1041" y="1346" font-size="23.4" fill="#131722" textLength="42.4" lengthAdjust="spacingAndGlyphs" stroke="#131722" stroke-width="0.5">Aug</text>
<text x="1222.9" y="1346" font-size="23.4" fill="#131722" textLength="42.4" lengthAdjust="spacingAndGlyphs" stroke="#131722" stroke-width="0.5">Sep</text>
<text x="1400.3" y="1346" font-size="23.4" fill="#131722" textLength="39.6" lengthAdjust="spacingAndGlyphs" stroke="#131722" stroke-width="0.5">Oct</text>
<text x="1580.3" y="1346" font-size="23.4" fill="#131722" textLength="43.3" lengthAdjust="spacingAndGlyphs" stroke="#131722" stroke-width="0.5">Nov</text>
<text x="1756.4" y="1346" font-size="23.4" fill="#131722" textLength="43.3" lengthAdjust="spacingAndGlyphs" stroke="#131722" stroke-width="0.5">Dec</text>
<text x="1928.3" y="1346" font-size="24" fill="#131722" font-weight="bold" textLength="64.5" lengthAdjust="spacingAndGlyphs">2026</text>
</g>
<g fill="#111">
<path d="M24 1408.1H47.75V1437.7H36V1420.3H24z"/>
<circle cx="57.6" cy="1414" r="5.7"/>
<path d="M65.5 1408.1H83.8L72.75 1437.7H58.1z"/>
</g>
<text x="98" y="1437.7" font-size="41.5" fill="#111" font-weight="bold" textLength="241.7" lengthAdjust="spacingAndGlyphs">TradingView</text>
</svg>
</body></html>
